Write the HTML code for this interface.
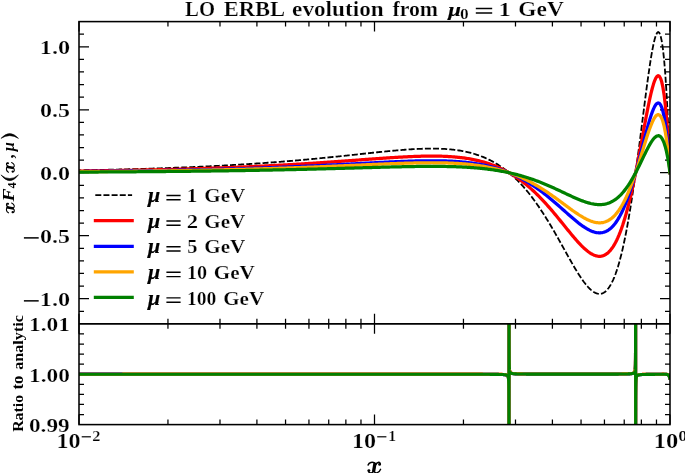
<!DOCTYPE html>
<html><head><meta charset="utf-8"><title>chart</title>
<style>html,body{margin:0;padding:0;background:#fff}body{width:685px;height:473px;overflow:hidden;position:relative;font-family:"Liberation Serif",serif}text{vector-effect:non-scaling-stroke;stroke:#fff;stroke-width:0.25px}</style></head>
<body>
<svg width="685" height="473" viewBox="0 0 685 473" style="position:absolute;left:0;top:0">
<defs><clipPath id="c1"><rect x="79.0" y="21.6" width="591.0" height="302.25"/></clipPath><clipPath id="c2"><rect x="79.0" y="323.85" width="591.0" height="100.75"/></clipPath></defs>
<rect width="685" height="473" fill="#fff"/>
<path d="M79.00,21.60 L79.00,31.60 M79.00,313.85 L79.00,333.85 M79.00,414.60 L79.00,424.60 M167.95,21.60 L167.95,26.60 M167.95,318.85 L167.95,328.85 M167.95,419.60 L167.95,424.60 M219.99,21.60 L219.99,26.60 M219.99,318.85 L219.99,328.85 M219.99,419.60 L219.99,424.60 M256.91,21.60 L256.91,26.60 M256.91,318.85 L256.91,328.85 M256.91,419.60 L256.91,424.60 M285.55,21.60 L285.55,26.60 M285.55,318.85 L285.55,328.85 M285.55,419.60 L285.55,424.60 M308.94,21.60 L308.94,26.60 M308.94,318.85 L308.94,328.85 M308.94,419.60 L308.94,424.60 M328.73,21.60 L328.73,26.60 M328.73,318.85 L328.73,328.85 M328.73,419.60 L328.73,424.60 M345.86,21.60 L345.86,26.60 M345.86,318.85 L345.86,328.85 M345.86,419.60 L345.86,424.60 M360.98,21.60 L360.98,26.60 M360.98,318.85 L360.98,328.85 M360.98,419.60 L360.98,424.60 M374.50,21.60 L374.50,31.60 M374.50,313.85 L374.50,333.85 M374.50,414.60 L374.50,424.60 M463.45,21.60 L463.45,26.60 M463.45,318.85 L463.45,328.85 M463.45,419.60 L463.45,424.60 M515.49,21.60 L515.49,26.60 M515.49,318.85 L515.49,328.85 M515.49,419.60 L515.49,424.60 M552.41,21.60 L552.41,26.60 M552.41,318.85 L552.41,328.85 M552.41,419.60 L552.41,424.60 M581.05,21.60 L581.05,26.60 M581.05,318.85 L581.05,328.85 M581.05,419.60 L581.05,424.60 M604.44,21.60 L604.44,26.60 M604.44,318.85 L604.44,328.85 M604.44,419.60 L604.44,424.60 M624.23,21.60 L624.23,26.60 M624.23,318.85 L624.23,328.85 M624.23,419.60 L624.23,424.60 M641.36,21.60 L641.36,26.60 M641.36,318.85 L641.36,328.85 M641.36,419.60 L641.36,424.60 M656.48,21.60 L656.48,26.60 M656.48,318.85 L656.48,328.85 M656.48,419.60 L656.48,424.60 M670.00,21.60 L670.00,31.60 M670.00,313.85 L670.00,333.85 M670.00,414.60 L670.00,424.60 M79.00,311.26 L84.00,311.26 M665.00,311.26 L670.00,311.26 M79.00,298.66 L89.00,298.66 M660.00,298.66 L670.00,298.66 M79.00,286.07 L84.00,286.07 M665.00,286.07 L670.00,286.07 M79.00,273.48 L84.00,273.48 M665.00,273.48 L670.00,273.48 M79.00,260.88 L84.00,260.88 M665.00,260.88 L670.00,260.88 M79.00,248.29 L84.00,248.29 M665.00,248.29 L670.00,248.29 M79.00,235.69 L89.00,235.69 M660.00,235.69 L670.00,235.69 M79.00,223.10 L84.00,223.10 M665.00,223.10 L670.00,223.10 M79.00,210.51 L84.00,210.51 M665.00,210.51 L670.00,210.51 M79.00,197.91 L84.00,197.91 M665.00,197.91 L670.00,197.91 M79.00,185.32 L84.00,185.32 M665.00,185.32 L670.00,185.32 M79.00,172.72 L89.00,172.72 M660.00,172.72 L670.00,172.72 M79.00,160.13 L84.00,160.13 M665.00,160.13 L670.00,160.13 M79.00,147.54 L84.00,147.54 M665.00,147.54 L670.00,147.54 M79.00,134.94 L84.00,134.94 M665.00,134.94 L670.00,134.94 M79.00,122.35 L84.00,122.35 M665.00,122.35 L670.00,122.35 M79.00,109.76 L89.00,109.76 M660.00,109.76 L670.00,109.76 M79.00,97.16 L84.00,97.16 M665.00,97.16 L670.00,97.16 M79.00,84.57 L84.00,84.57 M665.00,84.57 L670.00,84.57 M79.00,71.97 L84.00,71.97 M665.00,71.97 L670.00,71.97 M79.00,59.38 L84.00,59.38 M665.00,59.38 L670.00,59.38 M79.00,46.79 L89.00,46.79 M660.00,46.79 L670.00,46.79 M79.00,34.19 L84.00,34.19 M665.00,34.19 L670.00,34.19 M79.00,414.53 L84.00,414.53 M665.00,414.53 L670.00,414.53 M79.00,404.45 L84.00,404.45 M665.00,404.45 L670.00,404.45 M79.00,394.38 L84.00,394.38 M665.00,394.38 L670.00,394.38 M79.00,384.30 L84.00,384.30 M665.00,384.30 L670.00,384.30 M79.00,374.23 L89.00,374.23 M660.00,374.23 L670.00,374.23 M79.00,364.15 L84.00,364.15 M665.00,364.15 L670.00,364.15 M79.00,354.08 L84.00,354.08 M665.00,354.08 L670.00,354.08 M79.00,344.00 L84.00,344.00 M665.00,344.00 L670.00,344.00 M79.00,333.93 L84.00,333.93 M665.00,333.93 L670.00,333.93" stroke="#000" stroke-width="1.25" fill="none"/>
<g clip-path="url(#c1)" fill="none" stroke-linejoin="round">
<path d="M79.00,170.37 L80.18,170.35 L81.37,170.32 L82.55,170.30 L83.74,170.28 L84.92,170.26 L86.11,170.23 L87.29,170.21 L88.47,170.19 L89.66,170.16 L90.84,170.14 L92.03,170.12 L93.21,170.09 L94.40,170.07 L95.58,170.04 L96.77,170.02 L97.95,169.99 L99.13,169.97 L100.32,169.94 L101.50,169.92 L102.69,169.89 L103.87,169.87 L105.06,169.84 L106.24,169.81 L107.42,169.79 L108.61,169.76 L109.79,169.73 L110.98,169.70 L112.16,169.68 L113.35,169.65 L114.53,169.62 L115.72,169.59 L116.90,169.56 L118.08,169.53 L119.27,169.50 L120.45,169.47 L121.64,169.44 L122.82,169.41 L124.01,169.38 L125.19,169.35 L126.37,169.32 L127.56,169.29 L128.74,169.26 L129.93,169.23 L131.11,169.19 L132.30,169.16 L133.48,169.13 L134.67,169.09 L135.85,169.06 L137.03,169.03 L138.22,168.99 L139.40,168.96 L140.59,168.92 L141.77,168.89 L142.96,168.85 L144.14,168.82 L145.32,168.78 L146.51,168.75 L147.69,168.71 L148.88,168.67 L150.06,168.64 L151.25,168.60 L152.43,168.56 L153.62,168.52 L154.80,168.48 L155.98,168.44 L157.17,168.41 L158.35,168.37 L159.54,168.33 L160.72,168.29 L161.91,168.24 L163.09,168.20 L164.27,168.16 L165.46,168.12 L166.64,168.08 L167.83,168.04 L169.01,167.99 L170.20,167.95 L171.38,167.91 L172.57,167.86 L173.75,167.82 L174.93,167.77 L176.12,167.73 L177.30,167.68 L178.49,167.63 L179.67,167.59 L180.86,167.54 L182.04,167.49 L183.22,167.45 L184.41,167.40 L185.59,167.35 L186.78,167.30 L187.96,167.25 L189.15,167.20 L190.33,167.15 L191.52,167.10 L192.70,167.05 L193.88,167.00 L195.07,166.94 L196.25,166.89 L197.44,166.84 L198.62,166.79 L199.81,166.73 L200.99,166.68 L202.17,166.62 L203.36,166.57 L204.54,166.51 L205.73,166.45 L206.91,166.40 L208.10,166.34 L209.28,166.28 L210.46,166.22 L211.65,166.17 L212.83,166.11 L214.02,166.05 L215.20,165.99 L216.39,165.92 L217.57,165.86 L218.76,165.80 L219.94,165.74 L221.12,165.68 L222.31,165.61 L223.49,165.55 L224.68,165.48 L225.86,165.42 L227.05,165.35 L228.23,165.29 L229.41,165.22 L230.60,165.15 L231.78,165.08 L232.97,165.02 L234.15,164.95 L235.34,164.88 L236.52,164.81 L237.71,164.74 L238.89,164.67 L240.07,164.59 L241.26,164.52 L242.44,164.45 L243.63,164.37 L244.81,164.30 L246.00,164.22 L247.18,164.15 L248.36,164.07 L249.55,164.00 L250.73,163.92 L251.92,163.84 L253.10,163.76 L254.29,163.68 L255.47,163.60 L256.66,163.52 L257.84,163.44 L259.02,163.36 L260.21,163.28 L261.39,163.19 L262.58,163.11 L263.76,163.03 L264.95,162.94 L266.13,162.86 L267.31,162.77 L268.50,162.68 L269.68,162.60 L270.87,162.51 L272.05,162.42 L273.24,162.33 L274.42,162.24 L275.61,162.15 L276.79,162.06 L277.97,161.96 L279.16,161.87 L280.34,161.78 L281.53,161.68 L282.71,161.59 L283.90,161.49 L285.08,161.40 L286.26,161.30 L287.45,161.20 L288.63,161.10 L289.82,161.00 L291.00,160.91 L292.19,160.81 L293.37,160.70 L294.56,160.60 L295.74,160.50 L296.92,160.40 L298.11,160.29 L299.29,160.19 L300.48,160.08 L301.66,159.98 L302.85,159.87 L304.03,159.77 L305.21,159.66 L306.40,159.55 L307.58,159.44 L308.77,159.33 L309.95,159.22 L311.14,159.11 L312.32,159.00 L313.51,158.89 L314.69,158.78 L315.87,158.66 L317.06,158.55 L318.24,158.43 L319.43,158.32 L320.61,158.20 L321.80,158.09 L322.98,157.97 L324.16,157.85 L325.35,157.74 L326.53,157.62 L327.72,157.50 L328.90,157.38 L330.09,157.26 L331.27,157.14 L332.45,157.02 L333.64,156.90 L334.82,156.77 L336.01,156.65 L337.19,156.53 L338.38,156.41 L339.56,156.28 L340.75,156.16 L341.93,156.04 L343.11,155.91 L344.30,155.79 L345.48,155.66 L346.67,155.54 L347.85,155.41 L349.04,155.28 L350.22,155.16 L351.40,155.03 L352.59,154.91 L353.77,154.78 L354.96,154.65 L356.14,154.52 L357.33,154.40 L358.51,154.27 L359.70,154.14 L360.88,154.02 L362.06,153.89 L363.25,153.76 L364.43,153.64 L365.62,153.51 L366.80,153.38 L367.99,153.26 L369.17,153.13 L370.35,153.01 L371.54,152.88 L372.72,152.76 L373.91,152.63 L375.09,152.51 L376.28,152.39 L377.46,152.26 L378.65,152.14 L379.83,152.02 L381.01,151.90 L382.20,151.78 L383.38,151.66 L384.57,151.55 L385.75,151.43 L386.94,151.31 L388.12,151.20 L389.30,151.08 L390.49,150.97 L391.67,150.86 L392.86,150.75 L394.04,150.65 L395.23,150.54 L396.41,150.43 L397.60,150.33 L398.78,150.23 L399.96,150.13 L401.15,150.03 L402.33,149.94 L403.52,149.85 L404.70,149.76 L405.89,149.67 L407.07,149.58 L408.25,149.50 L409.44,149.42 L410.62,149.34 L411.81,149.27 L412.99,149.20 L414.18,149.13 L415.36,149.06 L416.55,149.00 L417.73,148.94 L418.91,148.89 L420.10,148.84 L421.28,148.79 L422.47,148.75 L423.65,148.71 L424.84,148.68 L426.02,148.65 L427.20,148.63 L428.39,148.61 L429.57,148.59 L430.76,148.59 L431.94,148.58 L433.13,148.58 L434.31,148.59 L435.49,148.61 L436.68,148.63 L437.86,148.65 L439.05,148.69 L440.23,148.73 L441.42,148.78 L442.60,148.83 L443.79,148.89 L444.97,148.96 L446.15,149.04 L447.34,149.13 L448.52,149.22 L449.71,149.33 L450.89,149.44 L452.08,149.56 L453.26,149.69 L454.44,149.83 L455.63,149.98 L456.81,150.14 L458.00,150.32 L459.18,150.50 L460.37,150.69 L461.55,150.90 L462.74,151.12 L463.92,151.34 L465.10,151.59 L466.29,151.84 L467.47,152.11 L468.66,152.39 L469.84,152.69 L471.03,152.99 L472.21,153.32 L473.39,153.66 L474.58,154.01 L475.76,154.38 L476.95,154.77 L478.13,155.17 L479.32,155.59 L480.50,156.02 L481.69,156.47 L482.87,156.94 L484.05,157.43 L485.24,157.94 L486.42,158.47 L487.61,159.01 L488.79,159.58 L489.98,160.17 L491.16,160.77 L492.34,161.40 L493.53,162.05 L494.71,162.73 L495.90,163.42 L497.08,164.14 L498.27,164.88 L499.45,165.64 L500.64,166.43 L501.82,167.24 L503.00,168.08 L504.19,168.94 L505.37,169.83 L506.56,170.75 L507.74,171.69 L508.93,172.65 L510.11,173.65 L511.29,174.67 L512.48,175.72 L513.66,176.80 L514.85,177.91 L516.03,179.04 L517.22,180.21 L518.40,181.40 L519.59,182.63 L520.77,183.88 L521.95,185.17 L523.14,186.48 L524.32,187.83 L525.51,189.20 L526.69,190.61 L527.88,192.05 L529.06,193.52 L530.24,195.02 L531.43,196.55 L532.61,198.11 L533.80,199.70 L534.98,201.32 L536.17,202.97 L537.35,204.66 L538.54,206.37 L539.72,208.11 L540.90,209.88 L542.09,211.68 L543.27,213.51 L544.46,215.36 L545.64,217.24 L546.83,219.15 L548.01,221.08 L549.19,223.04 L550.38,225.01 L551.56,227.01 L552.75,229.03 L553.93,231.07 L555.12,233.13 L556.30,235.20 L557.48,237.29 L558.67,239.39 L559.85,241.50 L561.04,243.61 L562.22,245.74 L563.41,247.87 L564.59,249.99 L565.78,252.12 L566.96,254.24 L568.14,256.36 L569.33,258.46 L570.51,260.55 L571.70,262.63 L572.88,264.68 L574.07,266.70 L575.25,268.70 L576.43,270.66 L577.62,272.58 L578.80,274.46 L579.99,276.29 L581.17,278.07 L582.36,279.78 L583.54,281.43 L584.73,283.01 L585.91,284.52 L587.09,285.93 L588.28,287.26 L589.46,288.49 L590.65,289.61 L591.83,290.63 L593.02,291.52 L594.20,292.28 L595.38,292.91 L596.57,293.39 L597.75,293.72 L598.94,293.89 L600.12,293.88 L601.31,293.70 L602.49,293.33 L603.68,292.75 L604.86,291.97 L606.04,290.97 L607.23,289.75 L608.41,288.28 L609.60,286.57 L610.78,284.60 L611.97,282.37 L613.15,279.86 L614.33,277.07 L615.52,273.99 L616.70,270.60 L617.89,266.91 L619.07,262.91 L620.26,258.58 L621.44,253.93 L622.63,248.94 L623.81,243.62 L624.99,237.97 L626.18,231.98 L627.36,225.66 L628.55,219.00 L629.73,212.02 L630.92,204.72 L632.10,197.11 L633.28,189.20 L634.47,181.01 L635.65,172.57 L636.84,163.88 L638.02,154.99 L639.21,145.92 L640.39,136.72 L641.58,127.42 L642.76,118.08 L643.94,108.76 L645.13,99.52 L646.31,90.43 L647.50,81.58 L648.68,73.06 L649.87,64.97 L651.05,57.43 L652.23,50.57 L653.42,44.53 L654.60,39.47 L655.79,35.57 L656.97,33.01 L658.16,32.02 L659.34,32.82 L660.53,35.67 L661.71,40.86 L662.89,48.70 L664.08,59.52 L665.26,73.71 L666.45,91.65 L667.63,113.81 L668.82,140.66 L670.00,172.72" stroke="#000" stroke-width="1.8" stroke-dasharray="6.0 2.15" stroke-dashoffset="3.73"/>
<path d="M79.00,171.10 L80.18,171.08 L81.37,171.07 L82.55,171.05 L83.74,171.04 L84.92,171.02 L86.11,171.01 L87.29,170.99 L88.47,170.98 L89.66,170.96 L90.84,170.94 L92.03,170.93 L93.21,170.91 L94.40,170.89 L95.58,170.88 L96.77,170.86 L97.95,170.84 L99.13,170.82 L100.32,170.81 L101.50,170.79 L102.69,170.77 L103.87,170.75 L105.06,170.73 L106.24,170.72 L107.42,170.70 L108.61,170.68 L109.79,170.66 L110.98,170.64 L112.16,170.62 L113.35,170.60 L114.53,170.58 L115.72,170.56 L116.90,170.54 L118.08,170.52 L119.27,170.50 L120.45,170.48 L121.64,170.46 L122.82,170.44 L124.01,170.42 L125.19,170.40 L126.37,170.38 L127.56,170.36 L128.74,170.33 L129.93,170.31 L131.11,170.29 L132.30,170.27 L133.48,170.24 L134.67,170.22 L135.85,170.20 L137.03,170.18 L138.22,170.15 L139.40,170.13 L140.59,170.10 L141.77,170.08 L142.96,170.06 L144.14,170.03 L145.32,170.01 L146.51,169.98 L147.69,169.96 L148.88,169.93 L150.06,169.91 L151.25,169.88 L152.43,169.85 L153.62,169.83 L154.80,169.80 L155.98,169.77 L157.17,169.75 L158.35,169.72 L159.54,169.69 L160.72,169.66 L161.91,169.64 L163.09,169.61 L164.27,169.58 L165.46,169.55 L166.64,169.52 L167.83,169.49 L169.01,169.46 L170.20,169.43 L171.38,169.40 L172.57,169.37 L173.75,169.34 L174.93,169.31 L176.12,169.28 L177.30,169.25 L178.49,169.22 L179.67,169.18 L180.86,169.15 L182.04,169.12 L183.22,169.09 L184.41,169.05 L185.59,169.02 L186.78,168.98 L187.96,168.95 L189.15,168.92 L190.33,168.88 L191.52,168.85 L192.70,168.81 L193.88,168.78 L195.07,168.74 L196.25,168.70 L197.44,168.67 L198.62,168.63 L199.81,168.59 L200.99,168.55 L202.17,168.52 L203.36,168.48 L204.54,168.44 L205.73,168.40 L206.91,168.36 L208.10,168.32 L209.28,168.28 L210.46,168.24 L211.65,168.20 L212.83,168.16 L214.02,168.12 L215.20,168.08 L216.39,168.04 L217.57,167.99 L218.76,167.95 L219.94,167.91 L221.12,167.86 L222.31,167.82 L223.49,167.78 L224.68,167.73 L225.86,167.69 L227.05,167.64 L228.23,167.60 L229.41,167.55 L230.60,167.50 L231.78,167.46 L232.97,167.41 L234.15,167.36 L235.34,167.31 L236.52,167.27 L237.71,167.22 L238.89,167.17 L240.07,167.12 L241.26,167.07 L242.44,167.02 L243.63,166.97 L244.81,166.92 L246.00,166.86 L247.18,166.81 L248.36,166.76 L249.55,166.71 L250.73,166.65 L251.92,166.60 L253.10,166.55 L254.29,166.49 L255.47,166.44 L256.66,166.38 L257.84,166.32 L259.02,166.27 L260.21,166.21 L261.39,166.15 L262.58,166.10 L263.76,166.04 L264.95,165.98 L266.13,165.92 L267.31,165.86 L268.50,165.80 L269.68,165.74 L270.87,165.68 L272.05,165.62 L273.24,165.56 L274.42,165.49 L275.61,165.43 L276.79,165.37 L277.97,165.31 L279.16,165.24 L280.34,165.18 L281.53,165.11 L282.71,165.05 L283.90,164.98 L285.08,164.91 L286.26,164.85 L287.45,164.78 L288.63,164.71 L289.82,164.64 L291.00,164.58 L292.19,164.51 L293.37,164.44 L294.56,164.37 L295.74,164.30 L296.92,164.23 L298.11,164.15 L299.29,164.08 L300.48,164.01 L301.66,163.94 L302.85,163.86 L304.03,163.79 L305.21,163.72 L306.40,163.64 L307.58,163.57 L308.77,163.49 L309.95,163.41 L311.14,163.34 L312.32,163.26 L313.51,163.18 L314.69,163.11 L315.87,163.03 L317.06,162.95 L318.24,162.87 L319.43,162.79 L320.61,162.71 L321.80,162.63 L322.98,162.55 L324.16,162.47 L325.35,162.39 L326.53,162.31 L327.72,162.23 L328.90,162.14 L330.09,162.06 L331.27,161.98 L332.45,161.90 L333.64,161.81 L334.82,161.73 L336.01,161.64 L337.19,161.56 L338.38,161.47 L339.56,161.39 L340.75,161.30 L341.93,161.22 L343.11,161.13 L344.30,161.05 L345.48,160.96 L346.67,160.87 L347.85,160.79 L349.04,160.70 L350.22,160.61 L351.40,160.53 L352.59,160.44 L353.77,160.35 L354.96,160.26 L356.14,160.18 L357.33,160.09 L358.51,160.00 L359.70,159.91 L360.88,159.83 L362.06,159.74 L363.25,159.65 L364.43,159.56 L365.62,159.48 L366.80,159.39 L367.99,159.30 L369.17,159.22 L370.35,159.13 L371.54,159.04 L372.72,158.96 L373.91,158.87 L375.09,158.79 L376.28,158.70 L377.46,158.62 L378.65,158.53 L379.83,158.45 L381.01,158.37 L382.20,158.28 L383.38,158.20 L384.57,158.12 L385.75,158.04 L386.94,157.96 L388.12,157.88 L389.30,157.80 L390.49,157.73 L391.67,157.65 L392.86,157.58 L394.04,157.50 L395.23,157.43 L396.41,157.36 L397.60,157.28 L398.78,157.22 L399.96,157.15 L401.15,157.08 L402.33,157.01 L403.52,156.95 L404.70,156.89 L405.89,156.83 L407.07,156.77 L408.25,156.71 L409.44,156.66 L410.62,156.60 L411.81,156.55 L412.99,156.50 L414.18,156.46 L415.36,156.41 L416.55,156.37 L417.73,156.33 L418.91,156.29 L420.10,156.26 L421.28,156.22 L422.47,156.20 L423.65,156.17 L424.84,156.15 L426.02,156.13 L427.20,156.11 L428.39,156.10 L429.57,156.09 L430.76,156.08 L431.94,156.08 L433.13,156.08 L434.31,156.09 L435.49,156.10 L436.68,156.11 L437.86,156.13 L439.05,156.15 L440.23,156.18 L441.42,156.21 L442.60,156.25 L443.79,156.29 L444.97,156.34 L446.15,156.40 L447.34,156.45 L448.52,156.52 L449.71,156.59 L450.89,156.67 L452.08,156.75 L453.26,156.84 L454.44,156.94 L455.63,157.04 L456.81,157.16 L458.00,157.27 L459.18,157.40 L460.37,157.53 L461.55,157.68 L462.74,157.83 L463.92,157.98 L465.10,158.15 L466.29,158.33 L467.47,158.51 L468.66,158.70 L469.84,158.91 L471.03,159.12 L472.21,159.34 L473.39,159.58 L474.58,159.82 L475.76,160.08 L476.95,160.34 L478.13,160.62 L479.32,160.91 L480.50,161.21 L481.69,161.52 L482.87,161.84 L484.05,162.18 L485.24,162.53 L486.42,162.90 L487.61,163.27 L488.79,163.66 L489.98,164.07 L491.16,164.49 L492.34,164.92 L493.53,165.37 L494.71,165.83 L495.90,166.31 L497.08,166.80 L498.27,167.31 L499.45,167.84 L500.64,168.38 L501.82,168.94 L503.00,169.52 L504.19,170.12 L505.37,170.73 L506.56,171.36 L507.74,172.01 L508.93,172.68 L510.11,173.36 L511.29,174.07 L512.48,174.79 L513.66,175.54 L514.85,176.30 L516.03,177.08 L517.22,177.89 L518.40,178.71 L519.59,179.55 L520.77,180.42 L521.95,181.30 L523.14,182.21 L524.32,183.14 L525.51,184.09 L526.69,185.06 L527.88,186.05 L529.06,187.06 L530.24,188.10 L531.43,189.15 L532.61,190.23 L533.80,191.32 L534.98,192.44 L536.17,193.58 L537.35,194.74 L538.54,195.92 L539.72,197.12 L540.90,198.35 L542.09,199.59 L543.27,200.85 L544.46,202.12 L545.64,203.42 L546.83,204.73 L548.01,206.07 L549.19,207.41 L550.38,208.78 L551.56,210.16 L552.75,211.55 L553.93,212.96 L555.12,214.37 L556.30,215.80 L557.48,217.24 L558.67,218.69 L559.85,220.14 L561.04,221.60 L562.22,223.07 L563.41,224.53 L564.59,226.00 L565.78,227.47 L566.96,228.93 L568.14,230.39 L569.33,231.84 L570.51,233.28 L571.70,234.71 L572.88,236.13 L574.07,237.52 L575.25,238.90 L576.43,240.25 L577.62,241.58 L578.80,242.87 L579.99,244.13 L581.17,245.36 L582.36,246.54 L583.54,247.68 L584.73,248.77 L585.91,249.80 L587.09,250.78 L588.28,251.70 L589.46,252.55 L590.65,253.32 L591.83,254.02 L593.02,254.63 L594.20,255.16 L595.38,255.59 L596.57,255.93 L597.75,256.15 L598.94,256.27 L600.12,256.26 L601.31,256.14 L602.49,255.88 L603.68,255.48 L604.86,254.95 L606.04,254.26 L607.23,253.41 L608.41,252.40 L609.60,251.22 L610.78,249.86 L611.97,248.32 L613.15,246.60 L614.33,244.67 L615.52,242.54 L616.70,240.21 L617.89,237.67 L619.07,234.90 L620.26,231.92 L621.44,228.71 L622.63,225.28 L623.81,221.61 L624.99,217.71 L626.18,213.58 L627.36,209.22 L628.55,204.63 L629.73,199.82 L630.92,194.78 L632.10,189.54 L633.28,184.08 L634.47,178.44 L635.65,172.61 L636.84,166.63 L638.02,160.50 L639.21,154.25 L640.39,147.90 L641.58,141.49 L642.76,135.05 L643.94,128.62 L645.13,122.25 L646.31,115.98 L647.50,109.88 L648.68,104.00 L649.87,98.43 L651.05,93.23 L652.23,88.50 L653.42,84.34 L654.60,80.85 L655.79,78.15 L656.97,76.39 L658.16,75.71 L659.34,76.26 L660.53,78.23 L661.71,81.81 L662.89,87.21 L664.08,94.67 L665.26,104.45 L666.45,116.83 L667.63,132.10 L668.82,150.61 L670.00,172.72" stroke="#ff0000" stroke-width="3.25" stroke-linecap="square"/>
<path d="M79.00,171.56 L80.18,171.54 L81.37,171.53 L82.55,171.52 L83.74,171.51 L84.92,171.50 L86.11,171.49 L87.29,171.48 L88.47,171.47 L89.66,171.45 L90.84,171.44 L92.03,171.43 L93.21,171.42 L94.40,171.41 L95.58,171.39 L96.77,171.38 L97.95,171.37 L99.13,171.36 L100.32,171.35 L101.50,171.33 L102.69,171.32 L103.87,171.31 L105.06,171.29 L106.24,171.28 L107.42,171.27 L108.61,171.25 L109.79,171.24 L110.98,171.23 L112.16,171.21 L113.35,171.20 L114.53,171.18 L115.72,171.17 L116.90,171.16 L118.08,171.14 L119.27,171.13 L120.45,171.11 L121.64,171.10 L122.82,171.08 L124.01,171.07 L125.19,171.05 L126.37,171.04 L127.56,171.02 L128.74,171.00 L129.93,170.99 L131.11,170.97 L132.30,170.96 L133.48,170.94 L134.67,170.92 L135.85,170.91 L137.03,170.89 L138.22,170.87 L139.40,170.86 L140.59,170.84 L141.77,170.82 L142.96,170.80 L144.14,170.79 L145.32,170.77 L146.51,170.75 L147.69,170.73 L148.88,170.72 L150.06,170.70 L151.25,170.68 L152.43,170.66 L153.62,170.64 L154.80,170.62 L155.98,170.60 L157.17,170.58 L158.35,170.56 L159.54,170.54 L160.72,170.52 L161.91,170.50 L163.09,170.48 L164.27,170.46 L165.46,170.44 L166.64,170.42 L167.83,170.40 L169.01,170.38 L170.20,170.36 L171.38,170.33 L172.57,170.31 L173.75,170.29 L174.93,170.27 L176.12,170.25 L177.30,170.22 L178.49,170.20 L179.67,170.18 L180.86,170.15 L182.04,170.13 L183.22,170.11 L184.41,170.08 L185.59,170.06 L186.78,170.03 L187.96,170.01 L189.15,169.99 L190.33,169.96 L191.52,169.93 L192.70,169.91 L193.88,169.88 L195.07,169.86 L196.25,169.83 L197.44,169.81 L198.62,169.78 L199.81,169.75 L200.99,169.73 L202.17,169.70 L203.36,169.67 L204.54,169.64 L205.73,169.61 L206.91,169.59 L208.10,169.56 L209.28,169.53 L210.46,169.50 L211.65,169.47 L212.83,169.44 L214.02,169.41 L215.20,169.38 L216.39,169.35 L217.57,169.32 L218.76,169.29 L219.94,169.26 L221.12,169.23 L222.31,169.20 L223.49,169.17 L224.68,169.13 L225.86,169.10 L227.05,169.07 L228.23,169.04 L229.41,169.00 L230.60,168.97 L231.78,168.94 L232.97,168.90 L234.15,168.87 L235.34,168.83 L236.52,168.80 L237.71,168.76 L238.89,168.73 L240.07,168.69 L241.26,168.66 L242.44,168.62 L243.63,168.58 L244.81,168.55 L246.00,168.51 L247.18,168.47 L248.36,168.43 L249.55,168.40 L250.73,168.36 L251.92,168.32 L253.10,168.28 L254.29,168.24 L255.47,168.20 L256.66,168.16 L257.84,168.12 L259.02,168.08 L260.21,168.04 L261.39,168.00 L262.58,167.96 L263.76,167.91 L264.95,167.87 L266.13,167.83 L267.31,167.79 L268.50,167.74 L269.68,167.70 L270.87,167.66 L272.05,167.61 L273.24,167.57 L274.42,167.52 L275.61,167.48 L276.79,167.43 L277.97,167.39 L279.16,167.34 L280.34,167.29 L281.53,167.25 L282.71,167.20 L283.90,167.15 L285.08,167.11 L286.26,167.06 L287.45,167.01 L288.63,166.96 L289.82,166.91 L291.00,166.86 L292.19,166.81 L293.37,166.76 L294.56,166.71 L295.74,166.66 L296.92,166.61 L298.11,166.56 L299.29,166.51 L300.48,166.46 L301.66,166.40 L302.85,166.35 L304.03,166.30 L305.21,166.24 L306.40,166.19 L307.58,166.14 L308.77,166.08 L309.95,166.03 L311.14,165.97 L312.32,165.92 L313.51,165.86 L314.69,165.81 L315.87,165.75 L317.06,165.69 L318.24,165.64 L319.43,165.58 L320.61,165.52 L321.80,165.46 L322.98,165.41 L324.16,165.35 L325.35,165.29 L326.53,165.23 L327.72,165.17 L328.90,165.11 L330.09,165.05 L331.27,164.99 L332.45,164.93 L333.64,164.87 L334.82,164.81 L336.01,164.75 L337.19,164.69 L338.38,164.63 L339.56,164.57 L340.75,164.51 L341.93,164.45 L343.11,164.39 L344.30,164.32 L345.48,164.26 L346.67,164.20 L347.85,164.14 L349.04,164.07 L350.22,164.01 L351.40,163.95 L352.59,163.89 L353.77,163.82 L354.96,163.76 L356.14,163.70 L357.33,163.63 L358.51,163.57 L359.70,163.51 L360.88,163.45 L362.06,163.38 L363.25,163.32 L364.43,163.26 L365.62,163.19 L366.80,163.13 L367.99,163.07 L369.17,163.01 L370.35,162.94 L371.54,162.88 L372.72,162.82 L373.91,162.76 L375.09,162.70 L376.28,162.64 L377.46,162.58 L378.65,162.52 L379.83,162.46 L381.01,162.40 L382.20,162.34 L383.38,162.28 L384.57,162.22 L385.75,162.16 L386.94,162.10 L388.12,162.05 L389.30,161.99 L390.49,161.94 L391.67,161.88 L392.86,161.83 L394.04,161.77 L395.23,161.72 L396.41,161.67 L397.60,161.62 L398.78,161.57 L399.96,161.52 L401.15,161.47 L402.33,161.42 L403.52,161.38 L404.70,161.33 L405.89,161.29 L407.07,161.25 L408.25,161.21 L409.44,161.17 L410.62,161.13 L411.81,161.09 L412.99,161.05 L414.18,161.02 L415.36,160.99 L416.55,160.96 L417.73,160.93 L418.91,160.90 L420.10,160.88 L421.28,160.85 L422.47,160.83 L423.65,160.82 L424.84,160.80 L426.02,160.78 L427.20,160.77 L428.39,160.76 L429.57,160.76 L430.76,160.75 L431.94,160.75 L433.13,160.75 L434.31,160.76 L435.49,160.76 L436.68,160.77 L437.86,160.79 L439.05,160.80 L440.23,160.82 L441.42,160.85 L442.60,160.87 L443.79,160.90 L444.97,160.94 L446.15,160.98 L447.34,161.02 L448.52,161.07 L449.71,161.12 L450.89,161.17 L452.08,161.24 L453.26,161.30 L454.44,161.37 L455.63,161.44 L456.81,161.52 L458.00,161.61 L459.18,161.70 L460.37,161.80 L461.55,161.90 L462.74,162.01 L463.92,162.12 L465.10,162.24 L466.29,162.37 L467.47,162.50 L468.66,162.64 L469.84,162.79 L471.03,162.94 L472.21,163.10 L473.39,163.27 L474.58,163.44 L475.76,163.63 L476.95,163.82 L478.13,164.02 L479.32,164.22 L480.50,164.44 L481.69,164.66 L482.87,164.90 L484.05,165.14 L485.24,165.39 L486.42,165.65 L487.61,165.92 L488.79,166.21 L489.98,166.50 L491.16,166.80 L492.34,167.11 L493.53,167.43 L494.71,167.77 L495.90,168.11 L497.08,168.47 L498.27,168.83 L499.45,169.21 L500.64,169.60 L501.82,170.01 L503.00,170.42 L504.19,170.85 L505.37,171.29 L506.56,171.74 L507.74,172.21 L508.93,172.69 L510.11,173.18 L511.29,173.69 L512.48,174.21 L513.66,174.75 L514.85,175.30 L516.03,175.86 L517.22,176.44 L518.40,177.03 L519.59,177.64 L520.77,178.26 L521.95,178.90 L523.14,179.55 L524.32,180.22 L525.51,180.90 L526.69,181.60 L527.88,182.31 L529.06,183.04 L530.24,183.78 L531.43,184.54 L532.61,185.32 L533.80,186.10 L534.98,186.91 L536.17,187.73 L537.35,188.56 L538.54,189.41 L539.72,190.28 L540.90,191.16 L542.09,192.05 L543.27,192.95 L544.46,193.87 L545.64,194.81 L546.83,195.75 L548.01,196.71 L549.19,197.68 L550.38,198.66 L551.56,199.65 L552.75,200.65 L553.93,201.67 L555.12,202.69 L556.30,203.71 L557.48,204.75 L558.67,205.79 L559.85,206.84 L561.04,207.89 L562.22,208.94 L563.41,209.99 L564.59,211.05 L565.78,212.11 L566.96,213.16 L568.14,214.21 L569.33,215.25 L570.51,216.29 L571.70,217.32 L572.88,218.33 L574.07,219.34 L575.25,220.33 L576.43,221.30 L577.62,222.25 L578.80,223.19 L579.99,224.09 L581.17,224.97 L582.36,225.83 L583.54,226.64 L584.73,227.43 L585.91,228.17 L587.09,228.88 L588.28,229.53 L589.46,230.14 L590.65,230.70 L591.83,231.20 L593.02,231.65 L594.20,232.03 L595.38,232.34 L596.57,232.58 L597.75,232.74 L598.94,232.82 L600.12,232.82 L601.31,232.73 L602.49,232.54 L603.68,232.26 L604.86,231.87 L606.04,231.38 L607.23,230.77 L608.41,230.04 L609.60,229.19 L610.78,228.22 L611.97,227.11 L613.15,225.86 L614.33,224.48 L615.52,222.95 L616.70,221.27 L617.89,219.44 L619.07,217.45 L620.26,215.31 L621.44,213.00 L622.63,210.53 L623.81,207.89 L624.99,205.09 L626.18,202.12 L627.36,198.98 L628.55,195.68 L629.73,192.22 L630.92,188.59 L632.10,184.82 L633.28,180.90 L634.47,176.84 L635.65,172.65 L636.84,168.34 L638.02,163.93 L639.21,159.43 L640.39,154.87 L641.58,150.26 L642.76,145.62 L643.94,141.00 L645.13,136.41 L646.31,131.91 L647.50,127.52 L648.68,123.29 L649.87,119.28 L651.05,115.54 L652.23,112.14 L653.42,109.14 L654.60,106.63 L655.79,104.69 L656.97,103.43 L658.16,102.93 L659.34,103.33 L660.53,104.75 L661.71,107.32 L662.89,111.21 L664.08,116.58 L665.26,123.61 L666.45,132.51 L667.63,143.50 L668.82,156.82 L670.00,172.72" stroke="#0000ff" stroke-width="3.25" stroke-linecap="square"/>
<path d="M79.00,171.75 L80.18,171.74 L81.37,171.73 L82.55,171.72 L83.74,171.71 L84.92,171.71 L86.11,171.70 L87.29,171.69 L88.47,171.68 L89.66,171.67 L90.84,171.66 L92.03,171.65 L93.21,171.64 L94.40,171.63 L95.58,171.62 L96.77,171.61 L97.95,171.60 L99.13,171.59 L100.32,171.58 L101.50,171.57 L102.69,171.55 L103.87,171.54 L105.06,171.53 L106.24,171.52 L107.42,171.51 L108.61,171.50 L109.79,171.49 L110.98,171.48 L112.16,171.47 L113.35,171.45 L114.53,171.44 L115.72,171.43 L116.90,171.42 L118.08,171.41 L119.27,171.39 L120.45,171.38 L121.64,171.37 L122.82,171.36 L124.01,171.34 L125.19,171.33 L126.37,171.32 L127.56,171.31 L128.74,171.29 L129.93,171.28 L131.11,171.27 L132.30,171.25 L133.48,171.24 L134.67,171.23 L135.85,171.21 L137.03,171.20 L138.22,171.18 L139.40,171.17 L140.59,171.16 L141.77,171.14 L142.96,171.13 L144.14,171.11 L145.32,171.10 L146.51,171.08 L147.69,171.07 L148.88,171.05 L150.06,171.04 L151.25,171.02 L152.43,171.00 L153.62,170.99 L154.80,170.97 L155.98,170.96 L157.17,170.94 L158.35,170.92 L159.54,170.91 L160.72,170.89 L161.91,170.87 L163.09,170.86 L164.27,170.84 L165.46,170.82 L166.64,170.81 L167.83,170.79 L169.01,170.77 L170.20,170.75 L171.38,170.73 L172.57,170.72 L173.75,170.70 L174.93,170.68 L176.12,170.66 L177.30,170.64 L178.49,170.62 L179.67,170.60 L180.86,170.58 L182.04,170.56 L183.22,170.54 L184.41,170.52 L185.59,170.50 L186.78,170.48 L187.96,170.46 L189.15,170.44 L190.33,170.42 L191.52,170.40 L192.70,170.38 L193.88,170.36 L195.07,170.34 L196.25,170.32 L197.44,170.29 L198.62,170.27 L199.81,170.25 L200.99,170.23 L202.17,170.20 L203.36,170.18 L204.54,170.16 L205.73,170.14 L206.91,170.11 L208.10,170.09 L209.28,170.06 L210.46,170.04 L211.65,170.02 L212.83,169.99 L214.02,169.97 L215.20,169.94 L216.39,169.92 L217.57,169.89 L218.76,169.87 L219.94,169.84 L221.12,169.81 L222.31,169.79 L223.49,169.76 L224.68,169.73 L225.86,169.71 L227.05,169.68 L228.23,169.65 L229.41,169.63 L230.60,169.60 L231.78,169.57 L232.97,169.54 L234.15,169.51 L235.34,169.48 L236.52,169.46 L237.71,169.43 L238.89,169.40 L240.07,169.37 L241.26,169.34 L242.44,169.31 L243.63,169.28 L244.81,169.25 L246.00,169.21 L247.18,169.18 L248.36,169.15 L249.55,169.12 L250.73,169.09 L251.92,169.06 L253.10,169.02 L254.29,168.99 L255.47,168.96 L256.66,168.92 L257.84,168.89 L259.02,168.86 L260.21,168.82 L261.39,168.79 L262.58,168.75 L263.76,168.72 L264.95,168.68 L266.13,168.65 L267.31,168.61 L268.50,168.58 L269.68,168.54 L270.87,168.50 L272.05,168.47 L273.24,168.43 L274.42,168.39 L275.61,168.36 L276.79,168.32 L277.97,168.28 L279.16,168.24 L280.34,168.20 L281.53,168.16 L282.71,168.13 L283.90,168.09 L285.08,168.05 L286.26,168.01 L287.45,167.97 L288.63,167.93 L289.82,167.88 L291.00,167.84 L292.19,167.80 L293.37,167.76 L294.56,167.72 L295.74,167.68 L296.92,167.63 L298.11,167.59 L299.29,167.55 L300.48,167.50 L301.66,167.46 L302.85,167.42 L304.03,167.37 L305.21,167.33 L306.40,167.28 L307.58,167.24 L308.77,167.19 L309.95,167.15 L311.14,167.10 L312.32,167.06 L313.51,167.01 L314.69,166.96 L315.87,166.92 L317.06,166.87 L318.24,166.82 L319.43,166.78 L320.61,166.73 L321.80,166.68 L322.98,166.63 L324.16,166.58 L325.35,166.53 L326.53,166.49 L327.72,166.44 L328.90,166.39 L330.09,166.34 L331.27,166.29 L332.45,166.24 L333.64,166.19 L334.82,166.14 L336.01,166.09 L337.19,166.04 L338.38,165.99 L339.56,165.93 L340.75,165.88 L341.93,165.83 L343.11,165.78 L344.30,165.73 L345.48,165.68 L346.67,165.63 L347.85,165.57 L349.04,165.52 L350.22,165.47 L351.40,165.42 L352.59,165.37 L353.77,165.31 L354.96,165.26 L356.14,165.21 L357.33,165.16 L358.51,165.10 L359.70,165.05 L360.88,165.00 L362.06,164.95 L363.25,164.89 L364.43,164.84 L365.62,164.79 L366.80,164.74 L367.99,164.69 L369.17,164.63 L370.35,164.58 L371.54,164.53 L372.72,164.48 L373.91,164.43 L375.09,164.38 L376.28,164.33 L377.46,164.27 L378.65,164.22 L379.83,164.17 L381.01,164.12 L382.20,164.08 L383.38,164.03 L384.57,163.98 L385.75,163.93 L386.94,163.88 L388.12,163.83 L389.30,163.79 L390.49,163.74 L391.67,163.70 L392.86,163.65 L394.04,163.61 L395.23,163.56 L396.41,163.52 L397.60,163.48 L398.78,163.43 L399.96,163.39 L401.15,163.35 L402.33,163.31 L403.52,163.28 L404.70,163.24 L405.89,163.20 L407.07,163.17 L408.25,163.13 L409.44,163.10 L410.62,163.07 L411.81,163.04 L412.99,163.01 L414.18,162.98 L415.36,162.95 L416.55,162.93 L417.73,162.90 L418.91,162.88 L420.10,162.86 L421.28,162.84 L422.47,162.82 L423.65,162.81 L424.84,162.79 L426.02,162.78 L427.20,162.77 L428.39,162.76 L429.57,162.76 L430.76,162.76 L431.94,162.75 L433.13,162.76 L434.31,162.76 L435.49,162.76 L436.68,162.77 L437.86,162.78 L439.05,162.80 L440.23,162.81 L441.42,162.83 L442.60,162.86 L443.79,162.88 L444.97,162.91 L446.15,162.94 L447.34,162.98 L448.52,163.02 L449.71,163.06 L450.89,163.11 L452.08,163.16 L453.26,163.21 L454.44,163.27 L455.63,163.33 L456.81,163.40 L458.00,163.47 L459.18,163.55 L460.37,163.63 L461.55,163.71 L462.74,163.80 L463.92,163.89 L465.10,163.99 L466.29,164.10 L467.47,164.21 L468.66,164.33 L469.84,164.45 L471.03,164.58 L472.21,164.71 L473.39,164.85 L474.58,165.00 L475.76,165.15 L476.95,165.31 L478.13,165.47 L479.32,165.65 L480.50,165.83 L481.69,166.01 L482.87,166.21 L484.05,166.41 L485.24,166.62 L486.42,166.84 L487.61,167.06 L488.79,167.30 L489.98,167.54 L491.16,167.79 L492.34,168.05 L493.53,168.32 L494.71,168.60 L495.90,168.88 L497.08,169.18 L498.27,169.48 L499.45,169.80 L500.64,170.13 L501.82,170.46 L503.00,170.81 L504.19,171.16 L505.37,171.53 L506.56,171.91 L507.74,172.30 L508.93,172.70 L510.11,173.11 L511.29,173.53 L512.48,173.96 L513.66,174.41 L514.85,174.87 L516.03,175.33 L517.22,175.82 L518.40,176.31 L519.59,176.82 L520.77,177.33 L521.95,177.86 L523.14,178.41 L524.32,178.96 L525.51,179.53 L526.69,180.11 L527.88,180.71 L529.06,181.31 L530.24,181.93 L531.43,182.56 L532.61,183.21 L533.80,183.87 L534.98,184.54 L536.17,185.22 L537.35,185.91 L538.54,186.62 L539.72,187.34 L540.90,188.07 L542.09,188.81 L543.27,189.57 L544.46,190.33 L545.64,191.11 L546.83,191.90 L548.01,192.70 L549.19,193.50 L550.38,194.32 L551.56,195.15 L552.75,195.98 L553.93,196.82 L555.12,197.67 L556.30,198.53 L557.48,199.39 L558.67,200.26 L559.85,201.13 L561.04,202.00 L562.22,202.88 L563.41,203.76 L564.59,204.64 L565.78,205.52 L566.96,206.39 L568.14,207.27 L569.33,208.13 L570.51,209.00 L571.70,209.85 L572.88,210.70 L574.07,211.54 L575.25,212.36 L576.43,213.17 L577.62,213.97 L578.80,214.74 L579.99,215.50 L581.17,216.23 L582.36,216.94 L583.54,217.62 L584.73,218.27 L585.91,218.89 L587.09,219.48 L588.28,220.03 L589.46,220.54 L590.65,221.00 L591.83,221.42 L593.02,221.79 L594.20,222.10 L595.38,222.36 L596.57,222.56 L597.75,222.70 L598.94,222.77 L600.12,222.76 L601.31,222.69 L602.49,222.53 L603.68,222.30 L604.86,221.97 L606.04,221.56 L607.23,221.05 L608.41,220.45 L609.60,219.74 L610.78,218.93 L611.97,218.01 L613.15,216.97 L614.33,215.82 L615.52,214.55 L616.70,213.15 L617.89,211.62 L619.07,209.97 L620.26,208.18 L621.44,206.26 L622.63,204.20 L623.81,202.01 L624.99,199.67 L626.18,197.20 L627.36,194.59 L628.55,191.84 L629.73,188.95 L630.92,185.94 L632.10,182.79 L633.28,179.53 L634.47,176.15 L635.65,172.66 L636.84,169.07 L638.02,165.40 L639.21,161.66 L640.39,157.85 L641.58,154.02 L642.76,150.16 L643.94,146.31 L645.13,142.49 L646.31,138.74 L647.50,135.08 L648.68,131.56 L649.87,128.22 L651.05,125.11 L652.23,122.27 L653.42,119.78 L654.60,117.69 L655.79,116.08 L656.97,115.02 L658.16,114.61 L659.34,114.94 L660.53,116.12 L661.71,118.27 L662.89,121.50 L664.08,125.97 L665.26,131.83 L666.45,139.24 L667.63,148.39 L668.82,159.48 L670.00,172.72" stroke="#ffa500" stroke-width="3.25" stroke-linecap="square"/>
<path d="M79.00,172.10 L80.18,172.10 L81.37,172.09 L82.55,172.09 L83.74,172.08 L84.92,172.08 L86.11,172.07 L87.29,172.06 L88.47,172.06 L89.66,172.05 L90.84,172.05 L92.03,172.04 L93.21,172.03 L94.40,172.03 L95.58,172.02 L96.77,172.01 L97.95,172.01 L99.13,172.00 L100.32,171.99 L101.50,171.99 L102.69,171.98 L103.87,171.97 L105.06,171.97 L106.24,171.96 L107.42,171.95 L108.61,171.94 L109.79,171.94 L110.98,171.93 L112.16,171.92 L113.35,171.92 L114.53,171.91 L115.72,171.90 L116.90,171.89 L118.08,171.89 L119.27,171.88 L120.45,171.87 L121.64,171.86 L122.82,171.85 L124.01,171.85 L125.19,171.84 L126.37,171.83 L127.56,171.82 L128.74,171.81 L129.93,171.80 L131.11,171.80 L132.30,171.79 L133.48,171.78 L134.67,171.77 L135.85,171.76 L137.03,171.75 L138.22,171.74 L139.40,171.73 L140.59,171.73 L141.77,171.72 L142.96,171.71 L144.14,171.70 L145.32,171.69 L146.51,171.68 L147.69,171.67 L148.88,171.66 L150.06,171.65 L151.25,171.64 L152.43,171.63 L153.62,171.62 L154.80,171.61 L155.98,171.60 L157.17,171.59 L158.35,171.58 L159.54,171.57 L160.72,171.56 L161.91,171.55 L163.09,171.54 L164.27,171.52 L165.46,171.51 L166.64,171.50 L167.83,171.49 L169.01,171.48 L170.20,171.47 L171.38,171.46 L172.57,171.45 L173.75,171.43 L174.93,171.42 L176.12,171.41 L177.30,171.40 L178.49,171.39 L179.67,171.37 L180.86,171.36 L182.04,171.35 L183.22,171.34 L184.41,171.32 L185.59,171.31 L186.78,171.30 L187.96,171.29 L189.15,171.27 L190.33,171.26 L191.52,171.25 L192.70,171.23 L193.88,171.22 L195.07,171.20 L196.25,171.19 L197.44,171.18 L198.62,171.16 L199.81,171.15 L200.99,171.13 L202.17,171.12 L203.36,171.11 L204.54,171.09 L205.73,171.08 L206.91,171.06 L208.10,171.05 L209.28,171.03 L210.46,171.02 L211.65,171.00 L212.83,170.98 L214.02,170.97 L215.20,170.95 L216.39,170.94 L217.57,170.92 L218.76,170.90 L219.94,170.89 L221.12,170.87 L222.31,170.85 L223.49,170.84 L224.68,170.82 L225.86,170.80 L227.05,170.79 L228.23,170.77 L229.41,170.75 L230.60,170.73 L231.78,170.72 L232.97,170.70 L234.15,170.68 L235.34,170.66 L236.52,170.64 L237.71,170.62 L238.89,170.61 L240.07,170.59 L241.26,170.57 L242.44,170.55 L243.63,170.53 L244.81,170.51 L246.00,170.49 L247.18,170.47 L248.36,170.45 L249.55,170.43 L250.73,170.41 L251.92,170.39 L253.10,170.37 L254.29,170.35 L255.47,170.33 L256.66,170.30 L257.84,170.28 L259.02,170.26 L260.21,170.24 L261.39,170.22 L262.58,170.20 L263.76,170.17 L264.95,170.15 L266.13,170.13 L267.31,170.11 L268.50,170.08 L269.68,170.06 L270.87,170.04 L272.05,170.01 L273.24,169.99 L274.42,169.97 L275.61,169.94 L276.79,169.92 L277.97,169.89 L279.16,169.87 L280.34,169.85 L281.53,169.82 L282.71,169.80 L283.90,169.77 L285.08,169.75 L286.26,169.72 L287.45,169.69 L288.63,169.67 L289.82,169.64 L291.00,169.62 L292.19,169.59 L293.37,169.56 L294.56,169.54 L295.74,169.51 L296.92,169.48 L298.11,169.46 L299.29,169.43 L300.48,169.40 L301.66,169.37 L302.85,169.34 L304.03,169.32 L305.21,169.29 L306.40,169.26 L307.58,169.23 L308.77,169.20 L309.95,169.17 L311.14,169.14 L312.32,169.12 L313.51,169.09 L314.69,169.06 L315.87,169.03 L317.06,169.00 L318.24,168.97 L319.43,168.94 L320.61,168.91 L321.80,168.88 L322.98,168.84 L324.16,168.81 L325.35,168.78 L326.53,168.75 L327.72,168.72 L328.90,168.69 L330.09,168.66 L331.27,168.63 L332.45,168.59 L333.64,168.56 L334.82,168.53 L336.01,168.50 L337.19,168.47 L338.38,168.43 L339.56,168.40 L340.75,168.37 L341.93,168.34 L343.11,168.30 L344.30,168.27 L345.48,168.24 L346.67,168.20 L347.85,168.17 L349.04,168.14 L350.22,168.10 L351.40,168.07 L352.59,168.04 L353.77,168.01 L354.96,167.97 L356.14,167.94 L357.33,167.90 L358.51,167.87 L359.70,167.84 L360.88,167.80 L362.06,167.77 L363.25,167.74 L364.43,167.70 L365.62,167.67 L366.80,167.64 L367.99,167.61 L369.17,167.57 L370.35,167.54 L371.54,167.51 L372.72,167.47 L373.91,167.44 L375.09,167.41 L376.28,167.38 L377.46,167.34 L378.65,167.31 L379.83,167.28 L381.01,167.25 L382.20,167.22 L383.38,167.19 L384.57,167.15 L385.75,167.12 L386.94,167.09 L388.12,167.06 L389.30,167.03 L390.49,167.00 L391.67,166.98 L392.86,166.95 L394.04,166.92 L395.23,166.89 L396.41,166.86 L397.60,166.84 L398.78,166.81 L399.96,166.78 L401.15,166.76 L402.33,166.73 L403.52,166.71 L404.70,166.68 L405.89,166.66 L407.07,166.64 L408.25,166.62 L409.44,166.60 L410.62,166.58 L411.81,166.56 L412.99,166.54 L414.18,166.52 L415.36,166.50 L416.55,166.49 L417.73,166.47 L418.91,166.46 L420.10,166.44 L421.28,166.43 L422.47,166.42 L423.65,166.41 L424.84,166.40 L426.02,166.39 L427.20,166.39 L428.39,166.38 L429.57,166.38 L430.76,166.38 L431.94,166.38 L433.13,166.38 L434.31,166.38 L435.49,166.38 L436.68,166.39 L437.86,166.39 L439.05,166.40 L440.23,166.41 L441.42,166.43 L442.60,166.44 L443.79,166.46 L444.97,166.48 L446.15,166.50 L447.34,166.52 L448.52,166.54 L449.71,166.57 L450.89,166.60 L452.08,166.63 L453.26,166.67 L454.44,166.70 L455.63,166.74 L456.81,166.79 L458.00,166.83 L459.18,166.88 L460.37,166.93 L461.55,166.98 L462.74,167.04 L463.92,167.10 L465.10,167.17 L466.29,167.23 L467.47,167.30 L468.66,167.38 L469.84,167.45 L471.03,167.54 L472.21,167.62 L473.39,167.71 L474.58,167.80 L475.76,167.90 L476.95,168.00 L478.13,168.11 L479.32,168.22 L480.50,168.33 L481.69,168.45 L482.87,168.57 L484.05,168.70 L485.24,168.84 L486.42,168.98 L487.61,169.12 L488.79,169.27 L489.98,169.42 L491.16,169.58 L492.34,169.75 L493.53,169.92 L494.71,170.10 L495.90,170.28 L497.08,170.47 L498.27,170.66 L499.45,170.86 L500.64,171.07 L501.82,171.28 L503.00,171.50 L504.19,171.73 L505.37,171.96 L506.56,172.20 L507.74,172.45 L508.93,172.71 L510.11,172.97 L511.29,173.24 L512.48,173.51 L513.66,173.80 L514.85,174.09 L516.03,174.39 L517.22,174.69 L518.40,175.01 L519.59,175.33 L520.77,175.66 L521.95,176.00 L523.14,176.34 L524.32,176.70 L525.51,177.06 L526.69,177.43 L527.88,177.81 L529.06,178.19 L530.24,178.59 L531.43,178.99 L532.61,179.40 L533.80,179.82 L534.98,180.25 L536.17,180.68 L537.35,181.12 L538.54,181.57 L539.72,182.03 L540.90,182.50 L542.09,182.97 L543.27,183.45 L544.46,183.94 L545.64,184.43 L546.83,184.93 L548.01,185.44 L549.19,185.96 L550.38,186.48 L551.56,187.00 L552.75,187.53 L553.93,188.07 L555.12,188.61 L556.30,189.16 L557.48,189.71 L558.67,190.26 L559.85,190.81 L561.04,191.37 L562.22,191.93 L563.41,192.49 L564.59,193.05 L565.78,193.61 L566.96,194.16 L568.14,194.72 L569.33,195.27 L570.51,195.82 L571.70,196.37 L572.88,196.91 L574.07,197.44 L575.25,197.97 L576.43,198.48 L577.62,198.99 L578.80,199.48 L579.99,199.96 L581.17,200.43 L582.36,200.88 L583.54,201.32 L584.73,201.73 L585.91,202.13 L587.09,202.50 L588.28,202.85 L589.46,203.17 L590.65,203.47 L591.83,203.73 L593.02,203.97 L594.20,204.17 L595.38,204.33 L596.57,204.46 L597.75,204.55 L598.94,204.59 L600.12,204.59 L601.31,204.54 L602.49,204.44 L603.68,204.29 L604.86,204.09 L606.04,203.82 L607.23,203.50 L608.41,203.12 L609.60,202.67 L610.78,202.15 L611.97,201.56 L613.15,200.90 L614.33,200.17 L615.52,199.36 L616.70,198.47 L617.89,197.50 L619.07,196.44 L620.26,195.30 L621.44,194.08 L622.63,192.77 L623.81,191.37 L624.99,189.88 L626.18,188.31 L627.36,186.65 L628.55,184.90 L629.73,183.06 L630.92,181.14 L632.10,179.14 L633.28,177.06 L634.47,174.90 L635.65,172.68 L636.84,170.40 L638.02,168.06 L639.21,165.68 L640.39,163.26 L641.58,160.81 L642.76,158.35 L643.94,155.90 L645.13,153.47 L646.31,151.08 L647.50,148.75 L648.68,146.51 L649.87,144.38 L651.05,142.40 L652.23,140.60 L653.42,139.01 L654.60,137.68 L655.79,136.65 L656.97,135.98 L658.16,135.72 L659.34,135.93 L660.53,136.68 L661.71,138.05 L662.89,140.11 L664.08,142.95 L665.26,146.68 L666.45,151.40 L667.63,157.23 L668.82,164.29 L670.00,172.72" stroke="#008000" stroke-width="3.25" stroke-linecap="square"/>
</g>
<g clip-path="url(#c2)" fill="none" stroke-linejoin="round">
<path d="M79.00,374.11 L79.01,374.11 L79.05,374.11 L79.11,374.11 L79.19,374.11 L79.30,374.11 L79.43,374.11 L79.58,374.11 L79.76,374.11 L79.96,374.11 L80.19,374.11 L80.43,374.11 L80.71,374.11 L81.00,374.11 L81.32,374.11 L81.66,374.11 L82.03,374.11 L82.42,374.11 L82.83,374.11 L83.27,374.11 L83.73,374.11 L84.21,374.11 L84.72,374.11 L85.25,374.11 L85.80,374.11 L86.37,374.11 L86.97,374.11 L87.59,374.11 L88.24,374.11 L88.90,374.11 L89.59,374.11 L90.30,374.11 L91.04,374.11 L91.79,374.11 L92.57,374.11 L93.37,374.11 L94.20,374.11 L95.04,374.11 L95.91,374.11 L96.80,374.11 L97.71,374.11 L98.64,374.11 L99.60,374.11 L100.57,374.11 L101.57,374.11 L102.59,374.11 L103.63,374.11 L104.69,374.11 L105.77,374.11 L106.87,374.11 L107.99,374.11 L109.14,374.11 L110.30,374.11 L111.48,374.11 L112.69,374.11 L113.91,374.11 L115.15,374.11 L116.42,374.11 L117.70,374.11 L119.00,374.11 L120.33,374.11 L121.67,374.11 L123.03,374.11 L124.41,374.11 L125.80,374.11 L127.22,374.11 L128.66,374.11 L130.11,374.11 L131.58,374.11 L133.07,374.11 L134.58,374.11 L136.10,374.11 L137.64,374.11 L139.20,374.11 L140.78,374.11 L142.37,374.11 L143.98,374.11 L145.61,374.11 L147.25,374.11 L148.91,374.11 L150.58,374.11 L152.27,374.11 L153.98,374.11 L155.70,374.11 L157.44,374.11 L159.19,374.11 L160.96,374.11 L162.74,374.11 L164.54,374.11 L166.35,374.11 L168.17,374.11 L170.01,374.11 L171.86,374.11 L173.73,374.11 L175.61,374.11 L177.50,374.11 L179.41,374.11 L181.32,374.11 L183.25,374.11 L185.20,374.11 L187.15,374.11 L189.12,374.11 L191.09,374.11 L193.08,374.11 L195.08,374.11 L197.09,374.11 L199.12,374.11 L201.15,374.11 L203.19,374.11 L205.24,374.11 L207.31,374.11 L209.38,374.11 L211.46,374.11 L213.55,374.11 L215.65,374.11 L217.76,374.11 L219.87,374.11 L222.00,374.11 L224.13,374.11 L226.27,374.11 L228.42,374.11 L230.57,374.11 L232.73,374.11 L234.90,374.11 L237.08,374.11 L239.26,374.11 L241.45,374.11 L243.64,374.11 L245.84,374.11 L248.04,374.11 L250.25,374.11 L252.47,374.11 L254.69,374.11 L256.91,374.11 L259.14,374.11 L261.37,374.11 L263.60,374.11 L265.84,374.11 L268.08,374.11 L270.32,374.11 L272.57,374.11 L274.82,374.11 L277.07,374.11 L279.32,374.11 L281.58,374.11 L283.83,374.11 L286.09,374.11 L288.35,374.11 L290.61,374.11 L292.87,374.11 L295.12,374.11 L297.38,374.11 L299.64,374.11 L301.90,374.11 L304.16,374.11 L306.41,374.11 L308.67,374.11 L310.92,374.11 L313.17,374.11 L315.42,374.11 L317.67,374.11 L319.91,374.11 L322.15,374.11 L324.39,374.11 L326.62,374.11 L328.85,374.11 L331.08,374.11 L333.30,374.11 L335.52,374.11 L337.74,374.11 L339.95,374.11 L342.15,374.11 L344.35,374.11 L346.54,374.11 L348.73,374.11 L350.91,374.11 L353.09,374.11 L355.26,374.11 L357.42,374.11 L359.57,374.11 L361.72,374.11 L363.86,374.11 L365.99,374.11 L368.12,374.11 L370.23,374.11 L372.34,374.11 L374.44,374.11 L376.53,374.11 L378.61,374.11 L380.68,374.11 L382.75,374.11 L384.80,374.11 L386.84,374.11 L388.87,374.11 L390.90,374.11 L392.91,374.11 L394.91,374.12 L396.90,374.12 L398.87,374.12 L400.84,374.12 L402.79,374.12 L404.74,374.12 L406.67,374.12 L408.58,374.12 L410.49,374.12 L412.38,374.12 L414.26,374.12 L416.13,374.12 L417.98,374.12 L419.82,374.12 L421.64,374.12 L423.45,374.12 L425.25,374.12 L427.03,374.12 L428.80,374.12 L430.55,374.12 L432.29,374.12 L434.01,374.12 L435.72,374.12 L437.41,374.12 L439.08,374.13 L440.74,374.13 L442.38,374.13 L444.01,374.13 L445.62,374.13 L447.21,374.13 L448.79,374.13 L450.35,374.13 L451.89,374.13 L453.41,374.13 L454.92,374.13 L456.41,374.13 L457.88,374.14 L459.33,374.14 L460.77,374.14 L462.19,374.14 L463.58,374.14 L464.96,374.14 L466.32,374.14 L467.66,374.15 L468.99,374.15 L470.29,374.15 L471.57,374.15 L472.84,374.15 L474.08,374.15 L475.30,374.16 L476.51,374.16 L477.69,374.16 L478.85,374.16 L480.00,374.17 L481.12,374.17 L482.22,374.17 L483.30,374.18 L484.36,374.18 L485.40,374.18 L486.42,374.19 L487.42,374.19 L488.39,374.20 L489.35,374.20 L490.28,374.21 L491.19,374.21 L492.08,374.22 L492.95,374.23 L493.79,374.23 L494.62,374.24 L495.42,374.25 L496.20,374.26 L496.95,374.27 L497.69,374.28 L498.40,374.30 L499.09,374.31 L499.75,374.33 L500.40,374.34 L501.02,374.36 L501.62,374.39 L502.19,374.41 L502.74,374.44 L503.27,374.47 L503.78,374.51 L504.26,374.55 L504.72,374.60 L505.16,374.66 L505.57,374.73 L505.96,374.81 L506.33,374.91 L506.67,375.03 L506.99,375.18 L507.28,375.36 L507.56,375.60 L507.80,375.91 L508.03,376.33 L508.23,376.91 L508.41,377.75 L508.56,379.01 L508.69,381.04 L508.80,384.57 L508.88,391.44 L508.94,406.70 L508.98,443.12 L508.99,444.48 M509.03,303.73 L509.03,303.73 L509.04,309.33 L509.06,331.32 L509.09,345.10 L509.12,353.59 L509.16,358.99 L509.20,362.58 L509.25,365.05 L509.31,366.82 L509.38,368.13 L509.45,369.11 L509.53,369.88 L509.62,370.48 L509.71,370.96 L509.81,371.35 L509.92,371.68 L510.04,371.95 L510.16,372.17 L510.29,372.36 L510.42,372.53 L510.56,372.67 L510.71,372.80 L510.87,372.90 L511.03,373.00 L511.20,373.08 L511.38,373.16 L511.56,373.22 L511.75,373.28 L511.95,373.34 L512.15,373.39 L512.36,373.43 L512.57,373.47 L512.80,373.51 L513.03,373.54 L513.26,373.57 L513.50,373.60 L513.75,373.62 L514.01,373.65 L514.27,373.67 L514.54,373.69 L514.81,373.71 L515.09,373.73 L515.38,373.74 L515.67,373.76 L515.97,373.77 L516.28,373.78 L516.59,373.80 L516.91,373.81 L517.23,373.82 L517.57,373.83 L517.90,373.84 L518.24,373.85 L518.59,373.86 L518.95,373.86 L519.31,373.87 L519.67,373.88 L520.05,373.89 L520.42,373.89 L520.81,373.90 L521.20,373.91 L521.59,373.91 L521.99,373.92 L522.40,373.92 L522.81,373.93 L523.23,373.93 L523.65,373.94 L524.08,373.94 L524.51,373.94 L524.95,373.95 L525.39,373.95 L525.84,373.95 L526.29,373.96 L526.75,373.96 L527.22,373.96 L527.69,373.97 L528.16,373.97 L528.64,373.97 L529.12,373.97 L529.61,373.98 L530.10,373.98 L530.60,373.98 L531.10,373.98 L531.61,373.99 L532.12,373.99 L532.64,373.99 L533.16,373.99 L533.68,373.99 L534.21,374.00 L534.74,374.00 L535.28,374.00 L535.82,374.00 L536.37,374.00 L536.92,374.00 L537.47,374.01 L538.03,374.01 L538.59,374.01 L539.15,374.01 L539.72,374.01 L540.29,374.01 L540.87,374.01 L541.45,374.01 L542.03,374.01 L542.61,374.02 L543.20,374.02 L543.80,374.02 L544.39,374.02 L544.99,374.02 L545.59,374.02 L546.19,374.02 L546.80,374.02 L547.41,374.02 L548.02,374.02 L548.64,374.02 L549.26,374.02 L549.88,374.03 L550.50,374.03 L551.13,374.03 L551.75,374.03 L552.38,374.03 L553.02,374.03 L553.65,374.03 L554.29,374.03 L554.93,374.03 L555.57,374.03 L556.21,374.03 L556.85,374.03 L557.50,374.03 L558.14,374.03 L558.79,374.03 L559.44,374.03 L560.10,374.03 L560.75,374.03 L561.40,374.03 L562.06,374.03 L562.72,374.03 L563.37,374.03 L564.03,374.03 L564.69,374.03 L565.35,374.03 L566.01,374.03 L566.68,374.03 L567.34,374.04 L568.00,374.04 L568.67,374.04 L569.33,374.04 L569.99,374.04 L570.66,374.04 L571.32,374.04 L571.99,374.04 L572.65,374.04 L573.32,374.04 L573.98,374.04 L574.65,374.04 L575.31,374.04 L575.98,374.04 L576.64,374.04 L577.30,374.04 L577.97,374.03 L578.63,374.03 L579.29,374.03 L579.95,374.03 L580.61,374.03 L581.27,374.03 L581.93,374.03 L582.58,374.03 L583.24,374.03 L583.89,374.03 L584.55,374.03 L585.20,374.03 L585.85,374.03 L586.50,374.03 L587.14,374.03 L587.79,374.03 L588.43,374.03 L589.08,374.03 L589.72,374.03 L590.36,374.03 L590.99,374.03 L591.63,374.03 L592.26,374.03 L592.89,374.03 L593.52,374.03 L594.14,374.03 L594.76,374.03 L595.38,374.02 L596.00,374.02 L596.62,374.02 L597.23,374.02 L597.84,374.02 L598.45,374.02 L599.05,374.02 L599.65,374.02 L600.25,374.02 L600.85,374.02 L601.44,374.02 L602.03,374.02 L602.61,374.01 L603.20,374.01 L603.77,374.01 L604.35,374.01 L604.92,374.01 L605.49,374.01 L606.05,374.01 L606.62,374.01 L607.17,374.01 L607.73,374.00 L608.27,374.00 L608.82,374.00 L609.36,374.00 L609.90,374.00 L610.43,374.00 L610.96,373.99 L611.48,373.99 L612.00,373.99 L612.52,373.99 L613.03,373.99 L613.54,373.98 L614.04,373.98 L614.54,373.98 L615.03,373.98 L615.52,373.97 L616.00,373.97 L616.48,373.97 L616.96,373.97 L617.43,373.96 L617.89,373.96 L618.35,373.96 L618.80,373.95 L619.25,373.95 L619.70,373.95 L620.13,373.94 L620.57,373.94 L620.99,373.94 L621.42,373.93 L621.83,373.93 L622.25,373.92 L622.65,373.92 L623.05,373.91 L623.45,373.91 L623.84,373.90 L624.22,373.89 L624.60,373.89 L624.97,373.88 L625.33,373.87 L625.70,373.86 L626.05,373.86 L626.40,373.85 L626.74,373.84 L627.08,373.83 L627.41,373.82 L627.73,373.81 L628.05,373.80 L628.36,373.78 L628.67,373.77 L628.97,373.76 L629.26,373.74 L629.55,373.73 L629.83,373.71 L630.10,373.69 L630.37,373.67 L630.63,373.65 L630.89,373.62 L631.14,373.60 L631.38,373.57 L631.62,373.54 L631.85,373.51 L632.07,373.47 L632.28,373.43 L632.49,373.39 L632.70,373.34 L632.89,373.28 L633.08,373.22 L633.27,373.16 L633.44,373.08 L633.61,373.00 L633.77,372.90 L633.93,372.80 L634.08,372.67 L634.22,372.53 L634.36,372.36 L634.48,372.17 L634.61,371.95 L634.72,371.68 L634.83,371.35 L634.93,370.96 L635.02,370.48 L635.11,369.88 L635.19,369.11 L635.26,368.13 L635.33,366.82 L635.39,365.05 L635.44,362.58 L635.49,358.99 L635.52,353.59 L635.56,345.10 L635.58,331.32 L635.60,309.33 L635.61,303.73 L635.61,303.73 M635.65,444.48 L635.65,444.48 L635.66,444.48 L635.66,444.48 L635.67,436.65 L635.68,424.44 L635.69,414.74 L635.70,407.21 L635.71,401.37 L635.73,396.83 L635.75,393.27 L635.77,390.44 L635.79,388.16 L635.81,386.31 L635.84,384.79 L635.86,383.54 L635.89,382.48 L635.93,381.59 L635.96,380.83 L635.99,380.18 L636.03,379.62 L636.07,379.13 L636.11,378.70 L636.15,378.33 L636.20,377.99 L636.24,377.70 L636.29,377.44 L636.34,377.20 L636.39,376.99 L636.44,376.80 L636.50,376.63 L636.56,376.47 L636.61,376.33 L636.67,376.20 L636.74,376.08 L636.80,375.97 L636.87,375.87 L636.93,375.78 L637.00,375.69 L637.07,375.61 L637.15,375.54 L637.22,375.47 L637.30,375.41 L637.38,375.35 L637.45,375.29 L637.54,375.24 L637.62,375.19 L637.70,375.15 L637.79,375.11 L637.88,375.07 L637.97,375.03 L638.06,374.99 L638.15,374.96 L638.25,374.93 L638.34,374.90 L638.44,374.87 L638.54,374.84 L638.64,374.82 L638.74,374.80 L638.85,374.77 L638.95,374.75 L639.06,374.73 L639.17,374.71 L639.28,374.69 L639.39,374.67 L639.50,374.66 L639.62,374.64 L639.73,374.62 L639.85,374.61 L639.97,374.60 L640.09,374.58 L640.21,374.57 L640.34,374.56 L640.46,374.54 L640.59,374.53 L640.71,374.52 L640.84,374.51 L640.97,374.50 L641.10,374.49 L641.24,374.48 L641.37,374.47 L641.51,374.46 L641.64,374.45 L641.78,374.45 L641.92,374.44 L642.06,374.43 L642.20,374.42 L642.34,374.42 L642.48,374.41 L642.63,374.40 L642.78,374.40 L642.92,374.39 L643.07,374.38 L643.22,374.38 L643.37,374.37 L643.52,374.37 L643.67,374.36 L643.83,374.36 L643.98,374.35 L644.14,374.35 L644.29,374.34 L644.45,374.34 L644.61,374.33 L644.77,374.33 L644.92,374.33 L645.09,374.32 L645.25,374.32 L645.41,374.31 L645.57,374.31 L645.74,374.31 L645.90,374.30 L646.07,374.30 L646.23,374.30 L646.40,374.29 L646.57,374.29 L646.74,374.29 L646.91,374.28 L647.07,374.28 L647.25,374.28 L647.42,374.28 L647.59,374.27 L647.76,374.27 L647.93,374.27 L648.11,374.27 L648.28,374.26 L648.45,374.26 L648.63,374.26 L648.80,374.26 L648.98,374.25 L649.16,374.25 L649.33,374.25 L649.51,374.25 L649.69,374.25 L649.86,374.24 L650.04,374.24 L650.22,374.24 L650.40,374.24 L650.58,374.24 L650.76,374.23 L650.94,374.23 L651.11,374.23 L651.29,374.23 L651.47,374.23 L651.65,374.23 L651.83,374.23 L652.01,374.22 L652.19,374.22 L652.37,374.22 L652.56,374.22 L652.74,374.22 L652.92,374.22 L653.10,374.22 L653.28,374.21 L653.46,374.21 L653.64,374.21 L653.82,374.21 L654.00,374.21 L654.18,374.21 L654.36,374.21 L654.54,374.21 L654.72,374.21 L654.90,374.20 L655.08,374.20 L655.25,374.20 L655.43,374.20 L655.61,374.20 L655.79,374.20 L655.97,374.20 L656.14,374.20 L656.32,374.20 L656.50,374.20 L656.67,374.19 L656.85,374.19 L657.02,374.19 L657.20,374.19 L657.37,374.19 L657.55,374.19 L657.72,374.19 L657.89,374.19 L658.06,374.19 L658.24,374.19 L658.41,374.19 L658.58,374.19 L658.75,374.19 L658.92,374.18 L659.08,374.18 L659.25,374.18 L659.42,374.18 L659.59,374.18 L659.75,374.18 L659.92,374.18 L660.08,374.18 L660.24,374.18 L660.41,374.18 L660.57,374.18 L660.73,374.18 L660.89,374.18 L661.05,374.18 L661.20,374.18 L661.36,374.18 L661.52,374.18 L661.67,374.18 L661.83,374.18 L661.98,374.17 L662.13,374.17 L662.28,374.17 L662.43,374.17 L662.58,374.17 L662.73,374.17 L662.88,374.17 L663.02,374.17 L663.17,374.17 L663.31,374.17 L663.45,374.17 L663.59,374.17 L663.73,374.17 L663.87,374.17 L664.01,374.17 L664.15,374.18 L664.28,374.18 L664.42,374.18 L664.55,374.18 L664.68,374.18 L664.81,374.18 L664.94,374.18 L665.07,374.19 L665.19,374.19 L665.32,374.19 L665.44,374.20 L665.56,374.20 L665.68,374.21 L665.80,374.21 L665.92,374.22 L666.03,374.22 L666.15,374.23 L666.26,374.24 L666.37,374.25 L666.48,374.26 L666.59,374.28 L666.70,374.29 L666.80,374.31 L666.91,374.32 L667.01,374.34 L667.11,374.36 L667.21,374.39 L667.31,374.41 L667.41,374.44 L667.50,374.47 L667.59,374.50 L667.68,374.54 L667.77,374.58 L667.86,374.62 L667.95,374.67 L668.03,374.72 L668.12,374.78 L668.20,374.83 L668.28,374.90 L668.35,374.96 L668.43,375.03 L668.51,375.11 L668.58,375.19 L668.65,375.27 L668.72,375.36 L668.79,375.46 L668.85,375.55 L668.92,375.66 L668.98,375.76 L669.04,375.87 L669.10,375.99 L669.15,376.11 L669.21,376.23 L669.26,376.36 L669.31,376.49 L669.36,376.62 L669.41,376.75 L669.46,376.89 L669.50,377.03 L669.54,377.17 L669.58,377.30 L669.62,377.44 L669.66,377.58 L669.69,377.71 L669.73,377.85 L669.76,377.98 L669.79,378.10 L669.81,378.22 L669.84,378.34 L669.86,378.45 L669.89,378.56 L669.91,378.66 L669.92,378.75 L669.94,378.83 L669.95,378.90 L669.97,378.97 L669.98,379.03 L669.98,379.07 L669.99,379.11 L670.00,379.13 L670.00,379.15 L670.00,379.16 M509.01,318.85 L509.01,429.6 M635.63,318.85 L635.63,429.6" stroke="#ff0000" stroke-width="3.1"/>
<path d="M79.00,374.11 L79.01,374.11 L79.05,374.11 L79.11,374.11 L79.19,374.11 L79.30,374.11 L79.43,374.11 L79.58,374.11 L79.76,374.11 L79.96,374.11 L80.19,374.11 L80.43,374.11 L80.71,374.11 L81.00,374.11 L81.32,374.11 L81.66,374.11 L82.03,374.11 L82.42,374.11 L82.83,374.11 L83.27,374.11 L83.73,374.11 L84.21,374.11 L84.72,374.11 L85.25,374.11 L85.80,374.11 L86.37,374.11 L86.97,374.11 L87.59,374.11 L88.24,374.11 L88.90,374.11 L89.59,374.11 L90.30,374.11 L91.04,374.11 L91.79,374.11 L92.57,374.11 L93.37,374.11 L94.20,374.11 L95.04,374.11 L95.91,374.11 L96.80,374.11 L97.71,374.11 L98.64,374.11 L99.60,374.11 L100.57,374.11 L101.57,374.11 L102.59,374.11 L103.63,374.11 L104.69,374.11 L105.77,374.11 L106.87,374.11 L107.99,374.11 L109.14,374.11 L110.30,374.11 L111.48,374.11 L112.69,374.11 L113.91,374.11 L115.15,374.11 L116.42,374.11 L117.70,374.11 L119.00,374.11 L120.33,374.11 L121.67,374.11 L123.03,374.23 L124.41,374.23 L125.80,374.23 L127.22,374.23 L128.66,374.23 L130.11,374.23 L131.58,374.23 L133.07,374.23 L134.58,374.23 L136.10,374.23 L137.64,374.23 L139.20,374.23 L140.78,374.23 L142.37,374.23 L143.98,374.23 L145.61,374.23 L147.25,374.23 L148.91,374.23 L150.58,374.23 L152.27,374.23 L153.98,374.23 L155.70,374.23 L157.44,374.23 L159.19,374.23 L160.96,374.23 L162.74,374.23 L164.54,374.23 L166.35,374.23 L168.17,374.23 L170.01,374.23 L171.86,374.23 L173.73,374.23 L175.61,374.23 L177.50,374.23 L179.41,374.23 L181.32,374.23 L183.25,374.23 L185.20,374.23 L187.15,374.23 L189.12,374.23 L191.09,374.23 L193.08,374.23 L195.08,374.23 L197.09,374.23 L199.12,374.23 L201.15,374.23 L203.19,374.23 L205.24,374.23 L207.31,374.23 L209.38,374.23 L211.46,374.23 L213.55,374.23 L215.65,374.23 L217.76,374.23 L219.87,374.23 L222.00,374.23 L224.13,374.23 L226.27,374.23 L228.42,374.23 L230.57,374.23 L232.73,374.23 L234.90,374.23 L237.08,374.23 L239.26,374.23 L241.45,374.23 L243.64,374.23 L245.84,374.23 L248.04,374.23 L250.25,374.23 L252.47,374.23 L254.69,374.23 L256.91,374.23 L259.14,374.23 L261.37,374.23 L263.60,374.23 L265.84,374.23 L268.08,374.23 L270.32,374.23 L272.57,374.23 L274.82,374.23 L277.07,374.23 L279.32,374.23 L281.58,374.23 L283.83,374.23 L286.09,374.23 L288.35,374.23 L290.61,374.23 L292.87,374.23 L295.12,374.23 L297.38,374.23 L299.64,374.23 L301.90,374.23 L304.16,374.23 L306.41,374.23 L308.67,374.23 L310.92,374.23 L313.17,374.23 L315.42,374.23 L317.67,374.23 L319.91,374.23 L322.15,374.23 L324.39,374.23 L326.62,374.23 L328.85,374.23 L331.08,374.23 L333.30,374.23 L335.52,374.23 L337.74,374.23 L339.95,374.23 L342.15,374.23 L344.35,374.23 L346.54,374.23 L348.73,374.23 L350.91,374.23 L353.09,374.23 L355.26,374.23 L357.42,374.23 L359.57,374.23 L361.72,374.23 L363.86,374.23 L365.99,374.23 L368.12,374.23 L370.23,374.23 L372.34,374.23 L374.44,374.23 L376.53,374.23 L378.61,374.23 L380.68,374.23 L382.75,374.23 L384.80,374.23 L386.84,374.23 L388.87,374.23 L390.90,374.23 L392.91,374.23 L394.91,374.24 L396.90,374.24 L398.87,374.24 L400.84,374.24 L402.79,374.24 L404.74,374.24 L406.67,374.24 L408.58,374.24 L410.49,374.24 L412.38,374.24 L414.26,374.24 L416.13,374.24 L417.98,374.24 L419.82,374.24 L421.64,374.24 L423.45,374.24 L425.25,374.24 L427.03,374.24 L428.80,374.24 L430.55,374.24 L432.29,374.24 L434.01,374.24 L435.72,374.24 L437.41,374.24 L439.08,374.25 L440.74,374.25 L442.38,374.25 L444.01,374.25 L445.62,374.25 L447.21,374.25 L448.79,374.25 L450.35,374.25 L451.89,374.25 L453.41,374.25 L454.92,374.25 L456.41,374.25 L457.88,374.26 L459.33,374.26 L460.77,374.26 L462.19,374.26 L463.58,374.26 L464.96,374.26 L466.32,374.26 L467.66,374.27 L468.99,374.27 L470.29,374.27 L471.57,374.27 L472.84,374.27 L474.08,374.27 L475.30,374.28 L476.51,374.28 L477.69,374.28 L478.85,374.28 L480.00,374.29 L481.12,374.29 L482.22,374.29 L483.30,374.30 L484.36,374.30 L485.40,374.30 L486.42,374.31 L487.42,374.31 L488.39,374.32 L489.35,374.32 L490.28,374.33 L491.19,374.33 L492.08,374.34 L492.95,374.35 L493.79,374.35 L494.62,374.36 L495.42,374.37 L496.20,374.38 L496.95,374.39 L497.69,374.40 L498.40,374.42 L499.09,374.43 L499.75,374.45 L500.40,374.46 L501.02,374.48 L501.62,374.51 L502.19,374.53 L502.74,374.56 L503.27,374.59 L503.78,374.63 L504.26,374.67 L504.72,374.72 L505.16,374.78 L505.57,374.85 L505.96,374.93 L506.33,375.03 L506.67,375.15 L506.99,375.30 L507.28,375.48 L507.56,375.72 L507.80,376.03 L508.03,376.45 L508.23,377.03 L508.41,377.87 L508.56,379.13 L508.69,381.16 L508.80,384.69 L508.88,391.56 L508.94,406.82 L508.98,443.24 L508.99,444.60 M509.03,303.85 L509.03,303.85 L509.04,309.45 L509.06,331.44 L509.09,345.22 L509.12,353.71 L509.16,359.11 L509.20,362.70 L509.25,365.17 L509.31,366.94 L509.38,368.25 L509.45,369.23 L509.53,370.00 L509.62,370.60 L509.71,371.08 L509.81,371.47 L509.92,371.80 L510.04,372.07 L510.16,372.29 L510.29,372.48 L510.42,372.65 L510.56,372.79 L510.71,372.92 L510.87,373.02 L511.03,373.12 L511.20,373.20 L511.38,373.28 L511.56,373.34 L511.75,373.40 L511.95,373.46 L512.15,373.51 L512.36,373.55 L512.57,373.59 L512.80,373.63 L513.03,373.66 L513.26,373.69 L513.50,373.72 L513.75,373.74 L514.01,373.77 L514.27,373.79 L514.54,373.81 L514.81,373.83 L515.09,373.85 L515.38,373.86 L515.67,373.88 L515.97,373.89 L516.28,373.90 L516.59,373.92 L516.91,373.93 L517.23,373.94 L517.57,373.95 L517.90,373.96 L518.24,373.97 L518.59,373.98 L518.95,373.98 L519.31,373.99 L519.67,374.00 L520.05,374.01 L520.42,374.01 L520.81,374.02 L521.20,374.03 L521.59,374.03 L521.99,374.04 L522.40,374.04 L522.81,374.05 L523.23,374.05 L523.65,374.06 L524.08,374.06 L524.51,374.06 L524.95,374.07 L525.39,374.07 L525.84,374.07 L526.29,374.08 L526.75,374.08 L527.22,374.08 L527.69,374.09 L528.16,374.09 L528.64,374.09 L529.12,374.09 L529.61,374.10 L530.10,374.10 L530.60,374.10 L531.10,374.10 L531.61,374.11 L532.12,374.11 L532.64,374.11 L533.16,374.11 L533.68,374.11 L534.21,374.12 L534.74,374.12 L535.28,374.12 L535.82,374.12 L536.37,374.12 L536.92,374.12 L537.47,374.13 L538.03,374.13 L538.59,374.13 L539.15,374.13 L539.72,374.13 L540.29,374.13 L540.87,374.13 L541.45,374.13 L542.03,374.13 L542.61,374.14 L543.20,374.14 L543.80,374.14 L544.39,374.14 L544.99,374.14 L545.59,374.14 L546.19,374.14 L546.80,374.14 L547.41,374.14 L548.02,374.14 L548.64,374.14 L549.26,374.14 L549.88,374.15 L550.50,374.15 L551.13,374.15 L551.75,374.15 L552.38,374.15 L553.02,374.15 L553.65,374.15 L554.29,374.15 L554.93,374.15 L555.57,374.15 L556.21,374.15 L556.85,374.15 L557.50,374.15 L558.14,374.15 L558.79,374.15 L559.44,374.15 L560.10,374.15 L560.75,374.15 L561.40,374.15 L562.06,374.15 L562.72,374.15 L563.37,374.15 L564.03,374.15 L564.69,374.15 L565.35,374.15 L566.01,374.15 L566.68,374.15 L567.34,374.16 L568.00,374.16 L568.67,374.16 L569.33,374.16 L569.99,374.16 L570.66,374.16 L571.32,374.16 L571.99,374.16 L572.65,374.16 L573.32,374.16 L573.98,374.16 L574.65,374.16 L575.31,374.16 L575.98,374.16 L576.64,374.16 L577.30,374.16 L577.97,374.15 L578.63,374.15 L579.29,374.15 L579.95,374.15 L580.61,374.15 L581.27,374.15 L581.93,374.15 L582.58,374.15 L583.24,374.15 L583.89,374.15 L584.55,374.15 L585.20,374.15 L585.85,374.15 L586.50,374.15 L587.14,374.15 L587.79,374.15 L588.43,374.15 L589.08,374.15 L589.72,374.15 L590.36,374.15 L590.99,374.15 L591.63,374.15 L592.26,374.15 L592.89,374.15 L593.52,374.15 L594.14,374.15 L594.76,374.15 L595.38,374.14 L596.00,374.14 L596.62,374.14 L597.23,374.14 L597.84,374.14 L598.45,374.14 L599.05,374.14 L599.65,374.14 L600.25,374.14 L600.85,374.14 L601.44,374.14 L602.03,374.14 L602.61,374.13 L603.20,374.13 L603.77,374.13 L604.35,374.13 L604.92,374.13 L605.49,374.13 L606.05,374.13 L606.62,374.13 L607.17,374.13 L607.73,374.12 L608.27,374.12 L608.82,374.12 L609.36,374.12 L609.90,374.12 L610.43,374.12 L610.96,374.11 L611.48,374.11 L612.00,374.11 L612.52,374.11 L613.03,374.11 L613.54,374.10 L614.04,374.10 L614.54,374.10 L615.03,374.10 L615.52,374.09 L616.00,374.09 L616.48,374.09 L616.96,374.09 L617.43,374.08 L617.89,374.08 L618.35,374.08 L618.80,374.07 L619.25,374.07 L619.70,374.07 L620.13,374.06 L620.57,374.06 L620.99,374.06 L621.42,374.05 L621.83,374.05 L622.25,374.04 L622.65,374.04 L623.05,374.03 L623.45,374.03 L623.84,374.02 L624.22,374.01 L624.60,374.01 L624.97,374.00 L625.33,373.99 L625.70,373.98 L626.05,373.98 L626.40,373.97 L626.74,373.96 L627.08,373.95 L627.41,373.94 L627.73,373.93 L628.05,373.92 L628.36,373.90 L628.67,373.89 L628.97,373.88 L629.26,373.86 L629.55,373.85 L629.83,373.83 L630.10,373.81 L630.37,373.79 L630.63,373.77 L630.89,373.74 L631.14,373.72 L631.38,373.69 L631.62,373.66 L631.85,373.63 L632.07,373.59 L632.28,373.55 L632.49,373.51 L632.70,373.46 L632.89,373.40 L633.08,373.34 L633.27,373.28 L633.44,373.20 L633.61,373.12 L633.77,373.02 L633.93,372.92 L634.08,372.79 L634.22,372.65 L634.36,372.48 L634.48,372.29 L634.61,372.07 L634.72,371.80 L634.83,371.47 L634.93,371.08 L635.02,370.60 L635.11,370.00 L635.19,369.23 L635.26,368.25 L635.33,366.94 L635.39,365.17 L635.44,362.70 L635.49,359.11 L635.52,353.71 L635.56,345.22 L635.58,331.44 L635.60,309.45 L635.61,303.85 L635.61,303.85 M635.65,444.60 L635.65,444.60 L635.66,444.60 L635.66,444.60 L635.67,436.77 L635.68,424.56 L635.69,414.86 L635.70,407.33 L635.71,401.49 L635.73,396.95 L635.75,393.39 L635.77,390.56 L635.79,388.28 L635.81,386.43 L635.84,384.91 L635.86,383.66 L635.89,382.60 L635.93,381.71 L635.96,380.95 L635.99,380.30 L636.03,379.74 L636.07,379.25 L636.11,378.82 L636.15,378.45 L636.20,378.11 L636.24,377.82 L636.29,377.56 L636.34,377.32 L636.39,377.11 L636.44,376.92 L636.50,376.75 L636.56,376.59 L636.61,376.45 L636.67,376.32 L636.74,376.20 L636.80,376.09 L636.87,375.99 L636.93,375.90 L637.00,375.81 L637.07,375.73 L637.15,375.66 L637.22,375.59 L637.30,375.53 L637.38,375.47 L637.45,375.41 L637.54,375.36 L637.62,375.31 L637.70,375.27 L637.79,375.23 L637.88,375.19 L637.97,375.15 L638.06,375.11 L638.15,375.08 L638.25,375.05 L638.34,375.02 L638.44,374.99 L638.54,374.96 L638.64,374.94 L638.74,374.92 L638.85,374.89 L638.95,374.87 L639.06,374.85 L639.17,374.83 L639.28,374.81 L639.39,374.79 L639.50,374.78 L639.62,374.76 L639.73,374.74 L639.85,374.73 L639.97,374.72 L640.09,374.70 L640.21,374.69 L640.34,374.68 L640.46,374.66 L640.59,374.65 L640.71,374.64 L640.84,374.63 L640.97,374.62 L641.10,374.61 L641.24,374.60 L641.37,374.59 L641.51,374.58 L641.64,374.57 L641.78,374.57 L641.92,374.56 L642.06,374.55 L642.20,374.54 L642.34,374.54 L642.48,374.53 L642.63,374.52 L642.78,374.52 L642.92,374.51 L643.07,374.50 L643.22,374.50 L643.37,374.49 L643.52,374.49 L643.67,374.48 L643.83,374.48 L643.98,374.47 L644.14,374.47 L644.29,374.46 L644.45,374.46 L644.61,374.45 L644.77,374.45 L644.92,374.45 L645.09,374.44 L645.25,374.44 L645.41,374.43 L645.57,374.43 L645.74,374.43 L645.90,374.42 L646.07,374.42 L646.23,374.42 L646.40,374.41 L646.57,374.41 L646.74,374.41 L646.91,374.40 L647.07,374.40 L647.25,374.40 L647.42,374.40 L647.59,374.39 L647.76,374.39 L647.93,374.39 L648.11,374.39 L648.28,374.38 L648.45,374.38 L648.63,374.38 L648.80,374.38 L648.98,374.37 L649.16,374.37 L649.33,374.37 L649.51,374.37 L649.69,374.37 L649.86,374.36 L650.04,374.36 L650.22,374.36 L650.40,374.36 L650.58,374.36 L650.76,374.35 L650.94,374.35 L651.11,374.35 L651.29,374.35 L651.47,374.35 L651.65,374.35 L651.83,374.35 L652.01,374.34 L652.19,374.34 L652.37,374.34 L652.56,374.34 L652.74,374.34 L652.92,374.34 L653.10,374.34 L653.28,374.33 L653.46,374.33 L653.64,374.33 L653.82,374.33 L654.00,374.33 L654.18,374.33 L654.36,374.33 L654.54,374.33 L654.72,374.33 L654.90,374.32 L655.08,374.32 L655.25,374.32 L655.43,374.32 L655.61,374.32 L655.79,374.32 L655.97,374.32 L656.14,374.32 L656.32,374.32 L656.50,374.32 L656.67,374.31 L656.85,374.31 L657.02,374.31 L657.20,374.31 L657.37,374.31 L657.55,374.31 L657.72,374.31 L657.89,374.31 L658.06,374.31 L658.24,374.31 L658.41,374.31 L658.58,374.31 L658.75,374.31 L658.92,374.30 L659.08,374.30 L659.25,374.30 L659.42,374.30 L659.59,374.30 L659.75,374.30 L659.92,374.30 L660.08,374.30 L660.24,374.30 L660.41,374.30 L660.57,374.30 L660.73,374.30 L660.89,374.30 L661.05,374.30 L661.20,374.30 L661.36,374.30 L661.52,374.30 L661.67,374.30 L661.83,374.30 L661.98,374.29 L662.13,374.29 L662.28,374.29 L662.43,374.29 L662.58,374.29 L662.73,374.29 L662.88,374.29 L663.02,374.29 L663.17,374.29 L663.31,374.29 L663.45,374.29 L663.59,374.29 L663.73,374.29 L663.87,374.29 L664.01,374.29 L664.15,374.30 L664.28,374.30 L664.42,374.30 L664.55,374.30 L664.68,374.30 L664.81,374.30 L664.94,374.30 L665.07,374.31 L665.19,374.31 L665.32,374.31 L665.44,374.32 L665.56,374.32 L665.68,374.33 L665.80,374.33 L665.92,374.34 L666.03,374.34 L666.15,374.35 L666.26,374.36 L666.37,374.37 L666.48,374.38 L666.59,374.40 L666.70,374.41 L666.80,374.43 L666.91,374.44 L667.01,374.46 L667.11,374.48 L667.21,374.51 L667.31,374.53 L667.41,374.56 L667.50,374.59 L667.59,374.62 L667.68,374.66 L667.77,374.70 L667.86,374.74 L667.95,374.79 L668.03,374.84 L668.12,374.90 L668.20,374.95 L668.28,375.02 L668.35,375.08 L668.43,375.15 L668.51,375.23 L668.58,375.31 L668.65,375.39 L668.72,375.48 L668.79,375.58 L668.85,375.67 L668.92,375.78 L668.98,375.88 L669.04,375.99 L669.10,376.11 L669.15,376.23 L669.21,376.35 L669.26,376.48 L669.31,376.61 L669.36,376.74 L669.41,376.87 L669.46,377.01 L669.50,377.15 L669.54,377.29 L669.58,377.42 L669.62,377.56 L669.66,377.70 L669.69,377.83 L669.73,377.97 L669.76,378.10 L669.79,378.22 L669.81,378.34 L669.84,378.46 L669.86,378.57 L669.89,378.68 L669.91,378.78 L669.92,378.87 L669.94,378.95 L669.95,379.02 L669.97,379.09 L669.98,379.15 L669.98,379.19 L669.99,379.23 L670.00,379.25 L670.00,379.27 L670.00,379.28 M509.01,318.85 L509.01,429.6 M635.63,318.85 L635.63,429.6" stroke="#0000ff" stroke-width="3.1"/>
<path d="M79.00,374.23 L79.01,374.23 L79.05,374.23 L79.11,374.23 L79.19,374.23 L79.30,374.23 L79.43,374.23 L79.58,374.23 L79.76,374.23 L79.96,374.23 L80.19,374.23 L80.43,374.23 L80.71,374.23 L81.00,374.23 L81.32,374.23 L81.66,374.23 L82.03,374.23 L82.42,374.23 L82.83,374.23 L83.27,374.23 L83.73,374.23 L84.21,374.23 L84.72,374.23 L85.25,374.23 L85.80,374.23 L86.37,374.23 L86.97,374.23 L87.59,374.23 L88.24,374.23 L88.90,374.23 L89.59,374.23 L90.30,374.23 L91.04,374.23 L91.79,374.23 L92.57,374.23 L93.37,374.23 L94.20,374.23 L95.04,374.23 L95.91,374.23 L96.80,374.23 L97.71,374.23 L98.64,374.23 L99.60,374.23 L100.57,374.23 L101.57,374.23 L102.59,374.23 L103.63,374.23 L104.69,374.23 L105.77,374.23 L106.87,374.23 L107.99,374.23 L109.14,374.23 L110.30,374.23 L111.48,374.23 L112.69,374.23 L113.91,374.23 L115.15,374.23 L116.42,374.23 L117.70,374.23 L119.00,374.23 L120.33,374.23 L121.67,374.23 L123.03,374.11 L124.41,374.11 L125.80,374.11 L127.22,374.11 L128.66,374.11 L130.11,374.11 L131.58,374.11 L133.07,374.11 L134.58,374.11 L136.10,374.11 L137.64,374.11 L139.20,374.11 L140.78,374.11 L142.37,374.11 L143.98,374.11 L145.61,374.11 L147.25,374.11 L148.91,374.11 L150.58,374.11 L152.27,374.11 L153.98,374.11 L155.70,374.11 L157.44,374.11 L159.19,374.11 L160.96,374.11 L162.74,374.11 L164.54,374.11 L166.35,374.11 L168.17,374.11 L170.01,374.11 L171.86,374.11 L173.73,374.11 L175.61,374.11 L177.50,374.11 L179.41,374.11 L181.32,374.11 L183.25,374.11 L185.20,374.11 L187.15,374.11 L189.12,374.11 L191.09,374.11 L193.08,374.11 L195.08,374.11 L197.09,374.11 L199.12,374.11 L201.15,374.11 L203.19,374.11 L205.24,374.11 L207.31,374.11 L209.38,374.11 L211.46,374.11 L213.55,374.11 L215.65,374.11 L217.76,374.11 L219.87,374.11 L222.00,374.11 L224.13,374.11 L226.27,374.11 L228.42,374.11 L230.57,374.11 L232.73,374.11 L234.90,374.11 L237.08,374.11 L239.26,374.11 L241.45,374.11 L243.64,374.11 L245.84,374.11 L248.04,374.11 L250.25,374.11 L252.47,374.11 L254.69,374.11 L256.91,374.11 L259.14,374.11 L261.37,374.11 L263.60,374.11 L265.84,374.11 L268.08,374.11 L270.32,374.11 L272.57,374.11 L274.82,374.11 L277.07,374.11 L279.32,374.11 L281.58,374.11 L283.83,374.11 L286.09,374.11 L288.35,374.11 L290.61,374.11 L292.87,374.11 L295.12,374.11 L297.38,374.11 L299.64,374.11 L301.90,374.11 L304.16,374.11 L306.41,374.11 L308.67,374.11 L310.92,374.11 L313.17,374.11 L315.42,374.11 L317.67,374.11 L319.91,374.11 L322.15,374.11 L324.39,374.11 L326.62,374.11 L328.85,374.11 L331.08,374.11 L333.30,374.11 L335.52,374.11 L337.74,374.11 L339.95,374.11 L342.15,374.11 L344.35,374.11 L346.54,374.11 L348.73,374.11 L350.91,374.11 L353.09,374.11 L355.26,374.11 L357.42,374.11 L359.57,374.11 L361.72,374.11 L363.86,374.11 L365.99,374.11 L368.12,374.11 L370.23,374.11 L372.34,374.11 L374.44,374.11 L376.53,374.11 L378.61,374.11 L380.68,374.11 L382.75,374.11 L384.80,374.11 L386.84,374.11 L388.87,374.11 L390.90,374.11 L392.91,374.11 L394.91,374.12 L396.90,374.12 L398.87,374.12 L400.84,374.12 L402.79,374.12 L404.74,374.12 L406.67,374.12 L408.58,374.12 L410.49,374.12 L412.38,374.12 L414.26,374.12 L416.13,374.12 L417.98,374.12 L419.82,374.12 L421.64,374.12 L423.45,374.12 L425.25,374.12 L427.03,374.12 L428.80,374.12 L430.55,374.12 L432.29,374.12 L434.01,374.12 L435.72,374.12 L437.41,374.12 L439.08,374.13 L440.74,374.13 L442.38,374.13 L444.01,374.13 L445.62,374.13 L447.21,374.13 L448.79,374.13 L450.35,374.13 L451.89,374.13 L453.41,374.13 L454.92,374.13 L456.41,374.13 L457.88,374.14 L459.33,374.14 L460.77,374.14 L462.19,374.14 L463.58,374.14 L464.96,374.14 L466.32,374.14 L467.66,374.15 L468.99,374.15 L470.29,374.15 L471.57,374.15 L472.84,374.15 L474.08,374.15 L475.30,374.16 L476.51,374.16 L477.69,374.16 L478.85,374.16 L480.00,374.17 L481.12,374.17 L482.22,374.17 L483.30,374.18 L484.36,374.18 L485.40,374.18 L486.42,374.19 L487.42,374.19 L488.39,374.20 L489.35,374.20 L490.28,374.21 L491.19,374.21 L492.08,374.22 L492.95,374.23 L493.79,374.23 L494.62,374.24 L495.42,374.25 L496.20,374.26 L496.95,374.27 L497.69,374.28 L498.40,374.30 L499.09,374.31 L499.75,374.33 L500.40,374.34 L501.02,374.36 L501.62,374.39 L502.19,374.41 L502.74,374.44 L503.27,374.47 L503.78,374.51 L504.26,374.55 L504.72,374.60 L505.16,374.66 L505.57,374.73 L505.96,374.81 L506.33,374.91 L506.67,375.03 L506.99,375.18 L507.28,375.36 L507.56,375.60 L507.80,375.91 L508.03,376.33 L508.23,376.91 L508.41,377.75 L508.56,379.01 L508.69,381.04 L508.80,384.57 L508.88,391.44 L508.94,406.70 L508.98,443.12 L508.99,444.48 M509.03,303.73 L509.03,303.73 L509.04,309.33 L509.06,331.32 L509.09,345.10 L509.12,353.59 L509.16,358.99 L509.20,362.58 L509.25,365.05 L509.31,366.82 L509.38,368.13 L509.45,369.11 L509.53,369.88 L509.62,370.48 L509.71,370.96 L509.81,371.35 L509.92,371.68 L510.04,371.95 L510.16,372.17 L510.29,372.36 L510.42,372.53 L510.56,372.67 L510.71,372.80 L510.87,372.90 L511.03,373.00 L511.20,373.08 L511.38,373.16 L511.56,373.22 L511.75,373.28 L511.95,373.34 L512.15,373.39 L512.36,373.43 L512.57,373.47 L512.80,373.51 L513.03,373.54 L513.26,373.57 L513.50,373.60 L513.75,373.62 L514.01,373.65 L514.27,373.67 L514.54,373.69 L514.81,373.71 L515.09,373.73 L515.38,373.74 L515.67,373.76 L515.97,373.77 L516.28,373.78 L516.59,373.80 L516.91,373.81 L517.23,373.82 L517.57,373.83 L517.90,373.84 L518.24,373.85 L518.59,373.86 L518.95,373.86 L519.31,373.87 L519.67,373.88 L520.05,373.89 L520.42,373.89 L520.81,373.90 L521.20,373.91 L521.59,373.91 L521.99,373.92 L522.40,373.92 L522.81,373.93 L523.23,373.93 L523.65,373.94 L524.08,373.94 L524.51,373.94 L524.95,373.95 L525.39,373.95 L525.84,373.95 L526.29,373.96 L526.75,373.96 L527.22,373.96 L527.69,373.97 L528.16,373.97 L528.64,373.97 L529.12,373.97 L529.61,373.98 L530.10,373.98 L530.60,373.98 L531.10,373.98 L531.61,373.99 L532.12,373.99 L532.64,373.99 L533.16,373.99 L533.68,373.99 L534.21,374.00 L534.74,374.00 L535.28,374.00 L535.82,374.00 L536.37,374.00 L536.92,374.00 L537.47,374.01 L538.03,374.01 L538.59,374.01 L539.15,374.01 L539.72,374.01 L540.29,374.01 L540.87,374.01 L541.45,374.01 L542.03,374.01 L542.61,374.02 L543.20,374.02 L543.80,374.02 L544.39,374.02 L544.99,374.02 L545.59,374.02 L546.19,374.02 L546.80,374.02 L547.41,374.02 L548.02,374.02 L548.64,374.02 L549.26,374.02 L549.88,374.03 L550.50,374.03 L551.13,374.03 L551.75,374.03 L552.38,374.03 L553.02,374.03 L553.65,374.03 L554.29,374.03 L554.93,374.03 L555.57,374.03 L556.21,374.03 L556.85,374.03 L557.50,374.03 L558.14,374.03 L558.79,374.03 L559.44,374.03 L560.10,374.03 L560.75,374.03 L561.40,374.03 L562.06,374.03 L562.72,374.03 L563.37,374.03 L564.03,374.03 L564.69,374.03 L565.35,374.03 L566.01,374.03 L566.68,374.03 L567.34,374.04 L568.00,374.04 L568.67,374.04 L569.33,374.04 L569.99,374.04 L570.66,374.04 L571.32,374.04 L571.99,374.04 L572.65,374.04 L573.32,374.04 L573.98,374.04 L574.65,374.04 L575.31,374.04 L575.98,374.04 L576.64,374.04 L577.30,374.04 L577.97,374.03 L578.63,374.03 L579.29,374.03 L579.95,374.03 L580.61,374.03 L581.27,374.03 L581.93,374.03 L582.58,374.03 L583.24,374.03 L583.89,374.03 L584.55,374.03 L585.20,374.03 L585.85,374.03 L586.50,374.03 L587.14,374.03 L587.79,374.03 L588.43,374.03 L589.08,374.03 L589.72,374.03 L590.36,374.03 L590.99,374.03 L591.63,374.03 L592.26,374.03 L592.89,374.03 L593.52,374.03 L594.14,374.03 L594.76,374.03 L595.38,374.02 L596.00,374.02 L596.62,374.02 L597.23,374.02 L597.84,374.02 L598.45,374.02 L599.05,374.02 L599.65,374.02 L600.25,374.02 L600.85,374.02 L601.44,374.02 L602.03,374.02 L602.61,374.01 L603.20,374.01 L603.77,374.01 L604.35,374.01 L604.92,374.01 L605.49,374.01 L606.05,374.01 L606.62,374.01 L607.17,374.01 L607.73,374.00 L608.27,374.00 L608.82,374.00 L609.36,374.00 L609.90,374.00 L610.43,374.00 L610.96,373.99 L611.48,373.99 L612.00,373.99 L612.52,373.99 L613.03,373.99 L613.54,373.98 L614.04,373.98 L614.54,373.98 L615.03,373.98 L615.52,373.97 L616.00,373.97 L616.48,373.97 L616.96,373.97 L617.43,373.96 L617.89,373.96 L618.35,373.96 L618.80,373.95 L619.25,373.95 L619.70,373.95 L620.13,373.94 L620.57,373.94 L620.99,373.94 L621.42,373.93 L621.83,373.93 L622.25,373.92 L622.65,373.92 L623.05,373.91 L623.45,373.91 L623.84,373.90 L624.22,373.89 L624.60,373.89 L624.97,373.88 L625.33,373.87 L625.70,373.86 L626.05,373.86 L626.40,373.85 L626.74,373.84 L627.08,373.83 L627.41,373.82 L627.73,373.81 L628.05,373.80 L628.36,373.78 L628.67,373.77 L628.97,373.76 L629.26,373.74 L629.55,373.73 L629.83,373.71 L630.10,373.69 L630.37,373.67 L630.63,373.65 L630.89,373.62 L631.14,373.60 L631.38,373.57 L631.62,373.54 L631.85,373.51 L632.07,373.47 L632.28,373.43 L632.49,373.39 L632.70,373.34 L632.89,373.28 L633.08,373.22 L633.27,373.16 L633.44,373.08 L633.61,373.00 L633.77,372.90 L633.93,372.80 L634.08,372.67 L634.22,372.53 L634.36,372.36 L634.48,372.17 L634.61,371.95 L634.72,371.68 L634.83,371.35 L634.93,370.96 L635.02,370.48 L635.11,369.88 L635.19,369.11 L635.26,368.13 L635.33,366.82 L635.39,365.05 L635.44,362.58 L635.49,358.99 L635.52,353.59 L635.56,345.10 L635.58,331.32 L635.60,309.33 L635.61,303.73 L635.61,303.73 M635.65,444.48 L635.65,444.48 L635.66,444.48 L635.66,444.48 L635.67,436.65 L635.68,424.44 L635.69,414.74 L635.70,407.21 L635.71,401.37 L635.73,396.83 L635.75,393.27 L635.77,390.44 L635.79,388.16 L635.81,386.31 L635.84,384.79 L635.86,383.54 L635.89,382.48 L635.93,381.59 L635.96,380.83 L635.99,380.18 L636.03,379.62 L636.07,379.13 L636.11,378.70 L636.15,378.33 L636.20,377.99 L636.24,377.70 L636.29,377.44 L636.34,377.20 L636.39,376.99 L636.44,376.80 L636.50,376.63 L636.56,376.47 L636.61,376.33 L636.67,376.20 L636.74,376.08 L636.80,375.97 L636.87,375.87 L636.93,375.78 L637.00,375.69 L637.07,375.61 L637.15,375.54 L637.22,375.47 L637.30,375.41 L637.38,375.35 L637.45,375.29 L637.54,375.24 L637.62,375.19 L637.70,375.15 L637.79,375.11 L637.88,375.07 L637.97,375.03 L638.06,374.99 L638.15,374.96 L638.25,374.93 L638.34,374.90 L638.44,374.87 L638.54,374.84 L638.64,374.82 L638.74,374.80 L638.85,374.77 L638.95,374.75 L639.06,374.73 L639.17,374.71 L639.28,374.69 L639.39,374.67 L639.50,374.66 L639.62,374.64 L639.73,374.62 L639.85,374.61 L639.97,374.60 L640.09,374.58 L640.21,374.57 L640.34,374.56 L640.46,374.54 L640.59,374.53 L640.71,374.52 L640.84,374.51 L640.97,374.50 L641.10,374.49 L641.24,374.48 L641.37,374.47 L641.51,374.46 L641.64,374.45 L641.78,374.45 L641.92,374.44 L642.06,374.43 L642.20,374.42 L642.34,374.42 L642.48,374.41 L642.63,374.40 L642.78,374.40 L642.92,374.39 L643.07,374.38 L643.22,374.38 L643.37,374.37 L643.52,374.37 L643.67,374.36 L643.83,374.36 L643.98,374.35 L644.14,374.35 L644.29,374.34 L644.45,374.34 L644.61,374.33 L644.77,374.33 L644.92,374.33 L645.09,374.32 L645.25,374.32 L645.41,374.31 L645.57,374.31 L645.74,374.31 L645.90,374.30 L646.07,374.30 L646.23,374.30 L646.40,374.29 L646.57,374.29 L646.74,374.29 L646.91,374.28 L647.07,374.28 L647.25,374.28 L647.42,374.28 L647.59,374.27 L647.76,374.27 L647.93,374.27 L648.11,374.27 L648.28,374.26 L648.45,374.26 L648.63,374.26 L648.80,374.26 L648.98,374.25 L649.16,374.25 L649.33,374.25 L649.51,374.25 L649.69,374.25 L649.86,374.24 L650.04,374.24 L650.22,374.24 L650.40,374.24 L650.58,374.24 L650.76,374.23 L650.94,374.23 L651.11,374.23 L651.29,374.23 L651.47,374.23 L651.65,374.23 L651.83,374.23 L652.01,374.22 L652.19,374.22 L652.37,374.22 L652.56,374.22 L652.74,374.22 L652.92,374.22 L653.10,374.22 L653.28,374.21 L653.46,374.21 L653.64,374.21 L653.82,374.21 L654.00,374.21 L654.18,374.21 L654.36,374.21 L654.54,374.21 L654.72,374.21 L654.90,374.20 L655.08,374.20 L655.25,374.20 L655.43,374.20 L655.61,374.20 L655.79,374.20 L655.97,374.20 L656.14,374.20 L656.32,374.20 L656.50,374.20 L656.67,374.19 L656.85,374.19 L657.02,374.19 L657.20,374.19 L657.37,374.19 L657.55,374.19 L657.72,374.19 L657.89,374.19 L658.06,374.19 L658.24,374.19 L658.41,374.19 L658.58,374.19 L658.75,374.19 L658.92,374.18 L659.08,374.18 L659.25,374.18 L659.42,374.18 L659.59,374.18 L659.75,374.18 L659.92,374.18 L660.08,374.18 L660.24,374.18 L660.41,374.18 L660.57,374.18 L660.73,374.18 L660.89,374.18 L661.05,374.18 L661.20,374.18 L661.36,374.18 L661.52,374.18 L661.67,374.18 L661.83,374.18 L661.98,374.17 L662.13,374.17 L662.28,374.17 L662.43,374.17 L662.58,374.17 L662.73,374.17 L662.88,374.17 L663.02,374.17 L663.17,374.17 L663.31,374.17 L663.45,374.17 L663.59,374.17 L663.73,374.17 L663.87,374.17 L664.01,374.17 L664.15,374.18 L664.28,374.18 L664.42,374.18 L664.55,374.18 L664.68,374.18 L664.81,374.18 L664.94,374.18 L665.07,374.19 L665.19,374.19 L665.32,374.19 L665.44,374.20 L665.56,374.20 L665.68,374.21 L665.80,374.21 L665.92,374.22 L666.03,374.22 L666.15,374.23 L666.26,374.24 L666.37,374.25 L666.48,374.26 L666.59,374.28 L666.70,374.29 L666.80,374.31 L666.91,374.32 L667.01,374.34 L667.11,374.36 L667.21,374.39 L667.31,374.41 L667.41,374.44 L667.50,374.47 L667.59,374.50 L667.68,374.54 L667.77,374.58 L667.86,374.62 L667.95,374.67 L668.03,374.72 L668.12,374.78 L668.20,374.83 L668.28,374.90 L668.35,374.96 L668.43,375.03 L668.51,375.11 L668.58,375.19 L668.65,375.27 L668.72,375.36 L668.79,375.46 L668.85,375.55 L668.92,375.66 L668.98,375.76 L669.04,375.87 L669.10,375.99 L669.15,376.11 L669.21,376.23 L669.26,376.36 L669.31,376.49 L669.36,376.62 L669.41,376.75 L669.46,376.89 L669.50,377.03 L669.54,377.17 L669.58,377.30 L669.62,377.44 L669.66,377.58 L669.69,377.71 L669.73,377.85 L669.76,377.98 L669.79,378.10 L669.81,378.22 L669.84,378.34 L669.86,378.45 L669.89,378.56 L669.91,378.66 L669.92,378.75 L669.94,378.83 L669.95,378.90 L669.97,378.97 L669.98,379.03 L669.98,379.07 L669.99,379.11 L670.00,379.13 L670.00,379.15 L670.00,379.16 M509.01,318.85 L509.01,429.6 M635.63,318.85 L635.63,429.6" stroke="#ffa500" stroke-width="3.1"/>
<path d="M79.00,374.23 L79.01,374.23 L79.05,374.23 L79.11,374.23 L79.19,374.23 L79.30,374.23 L79.43,374.23 L79.58,374.23 L79.76,374.23 L79.96,374.23 L80.19,374.23 L80.43,374.23 L80.71,374.23 L81.00,374.23 L81.32,374.23 L81.66,374.23 L82.03,374.23 L82.42,374.23 L82.83,374.23 L83.27,374.23 L83.73,374.23 L84.21,374.23 L84.72,374.23 L85.25,374.23 L85.80,374.23 L86.37,374.23 L86.97,374.23 L87.59,374.23 L88.24,374.23 L88.90,374.23 L89.59,374.23 L90.30,374.23 L91.04,374.23 L91.79,374.23 L92.57,374.23 L93.37,374.23 L94.20,374.23 L95.04,374.23 L95.91,374.23 L96.80,374.23 L97.71,374.23 L98.64,374.23 L99.60,374.23 L100.57,374.23 L101.57,374.23 L102.59,374.23 L103.63,374.23 L104.69,374.23 L105.77,374.23 L106.87,374.23 L107.99,374.23 L109.14,374.23 L110.30,374.23 L111.48,374.23 L112.69,374.23 L113.91,374.23 L115.15,374.23 L116.42,374.23 L117.70,374.23 L119.00,374.23 L120.33,374.23 L121.67,374.23 L123.03,374.23 L124.41,374.23 L125.80,374.23 L127.22,374.23 L128.66,374.23 L130.11,374.23 L131.58,374.23 L133.07,374.23 L134.58,374.23 L136.10,374.23 L137.64,374.23 L139.20,374.23 L140.78,374.23 L142.37,374.23 L143.98,374.23 L145.61,374.23 L147.25,374.23 L148.91,374.23 L150.58,374.23 L152.27,374.23 L153.98,374.23 L155.70,374.23 L157.44,374.23 L159.19,374.23 L160.96,374.23 L162.74,374.23 L164.54,374.23 L166.35,374.23 L168.17,374.23 L170.01,374.23 L171.86,374.23 L173.73,374.23 L175.61,374.23 L177.50,374.23 L179.41,374.23 L181.32,374.23 L183.25,374.23 L185.20,374.23 L187.15,374.23 L189.12,374.23 L191.09,374.23 L193.08,374.23 L195.08,374.23 L197.09,374.23 L199.12,374.23 L201.15,374.23 L203.19,374.23 L205.24,374.23 L207.31,374.23 L209.38,374.23 L211.46,374.23 L213.55,374.23 L215.65,374.23 L217.76,374.23 L219.87,374.23 L222.00,374.23 L224.13,374.23 L226.27,374.23 L228.42,374.23 L230.57,374.23 L232.73,374.23 L234.90,374.23 L237.08,374.23 L239.26,374.23 L241.45,374.23 L243.64,374.23 L245.84,374.23 L248.04,374.23 L250.25,374.23 L252.47,374.23 L254.69,374.23 L256.91,374.23 L259.14,374.23 L261.37,374.23 L263.60,374.23 L265.84,374.23 L268.08,374.23 L270.32,374.23 L272.57,374.23 L274.82,374.23 L277.07,374.23 L279.32,374.23 L281.58,374.23 L283.83,374.23 L286.09,374.23 L288.35,374.23 L290.61,374.23 L292.87,374.23 L295.12,374.23 L297.38,374.23 L299.64,374.23 L301.90,374.23 L304.16,374.23 L306.41,374.23 L308.67,374.23 L310.92,374.23 L313.17,374.23 L315.42,374.23 L317.67,374.23 L319.91,374.23 L322.15,374.23 L324.39,374.23 L326.62,374.23 L328.85,374.23 L331.08,374.23 L333.30,374.23 L335.52,374.23 L337.74,374.23 L339.95,374.23 L342.15,374.23 L344.35,374.23 L346.54,374.23 L348.73,374.23 L350.91,374.23 L353.09,374.23 L355.26,374.23 L357.42,374.23 L359.57,374.23 L361.72,374.23 L363.86,374.23 L365.99,374.23 L368.12,374.23 L370.23,374.23 L372.34,374.23 L374.44,374.23 L376.53,374.23 L378.61,374.23 L380.68,374.23 L382.75,374.23 L384.80,374.23 L386.84,374.23 L388.87,374.23 L390.90,374.23 L392.91,374.23 L394.91,374.24 L396.90,374.24 L398.87,374.24 L400.84,374.24 L402.79,374.24 L404.74,374.24 L406.67,374.24 L408.58,374.24 L410.49,374.24 L412.38,374.24 L414.26,374.24 L416.13,374.24 L417.98,374.24 L419.82,374.24 L421.64,374.24 L423.45,374.24 L425.25,374.24 L427.03,374.24 L428.80,374.24 L430.55,374.24 L432.29,374.24 L434.01,374.24 L435.72,374.24 L437.41,374.24 L439.08,374.25 L440.74,374.25 L442.38,374.25 L444.01,374.25 L445.62,374.25 L447.21,374.25 L448.79,374.25 L450.35,374.25 L451.89,374.25 L453.41,374.25 L454.92,374.25 L456.41,374.25 L457.88,374.26 L459.33,374.26 L460.77,374.26 L462.19,374.26 L463.58,374.26 L464.96,374.26 L466.32,374.26 L467.66,374.27 L468.99,374.27 L470.29,374.27 L471.57,374.27 L472.84,374.27 L474.08,374.27 L475.30,374.28 L476.51,374.28 L477.69,374.28 L478.85,374.28 L480.00,374.29 L481.12,374.29 L482.22,374.29 L483.30,374.30 L484.36,374.30 L485.40,374.30 L486.42,374.31 L487.42,374.31 L488.39,374.32 L489.35,374.32 L490.28,374.33 L491.19,374.33 L492.08,374.34 L492.95,374.35 L493.79,374.35 L494.62,374.36 L495.42,374.37 L496.20,374.38 L496.95,374.39 L497.69,374.40 L498.40,374.42 L499.09,374.43 L499.75,374.45 L500.40,374.46 L501.02,374.48 L501.62,374.51 L502.19,374.53 L502.74,374.56 L503.27,374.59 L503.78,374.63 L504.26,374.67 L504.72,374.72 L505.16,374.78 L505.57,374.85 L505.96,374.93 L506.33,375.03 L506.67,375.15 L506.99,375.30 L507.28,375.48 L507.56,375.72 L507.80,376.03 L508.03,376.45 L508.23,377.03 L508.41,377.87 L508.56,379.13 L508.69,381.16 L508.80,384.69 L508.88,391.56 L508.94,406.82 L508.98,443.24 L508.99,444.60 M509.03,303.85 L509.03,303.85 L509.04,309.45 L509.06,331.44 L509.09,345.22 L509.12,353.71 L509.16,359.11 L509.20,362.70 L509.25,365.17 L509.31,366.94 L509.38,368.25 L509.45,369.23 L509.53,370.00 L509.62,370.60 L509.71,371.08 L509.81,371.47 L509.92,371.80 L510.04,372.07 L510.16,372.29 L510.29,372.48 L510.42,372.65 L510.56,372.79 L510.71,372.92 L510.87,373.02 L511.03,373.12 L511.20,373.20 L511.38,373.28 L511.56,373.34 L511.75,373.40 L511.95,373.46 L512.15,373.51 L512.36,373.55 L512.57,373.59 L512.80,373.63 L513.03,373.66 L513.26,373.69 L513.50,373.72 L513.75,373.74 L514.01,373.77 L514.27,373.79 L514.54,373.81 L514.81,373.83 L515.09,373.85 L515.38,373.86 L515.67,373.88 L515.97,373.89 L516.28,373.90 L516.59,373.92 L516.91,373.93 L517.23,373.94 L517.57,373.95 L517.90,373.96 L518.24,373.97 L518.59,373.98 L518.95,373.98 L519.31,373.99 L519.67,374.00 L520.05,374.01 L520.42,374.01 L520.81,374.02 L521.20,374.03 L521.59,374.03 L521.99,374.04 L522.40,374.04 L522.81,374.05 L523.23,374.05 L523.65,374.06 L524.08,374.06 L524.51,374.06 L524.95,374.07 L525.39,374.07 L525.84,374.07 L526.29,374.08 L526.75,374.08 L527.22,374.08 L527.69,374.09 L528.16,374.09 L528.64,374.09 L529.12,374.09 L529.61,374.10 L530.10,374.10 L530.60,374.10 L531.10,374.10 L531.61,374.11 L532.12,374.11 L532.64,374.11 L533.16,374.11 L533.68,374.11 L534.21,374.12 L534.74,374.12 L535.28,374.12 L535.82,374.12 L536.37,374.12 L536.92,374.12 L537.47,374.13 L538.03,374.13 L538.59,374.13 L539.15,374.13 L539.72,374.13 L540.29,374.13 L540.87,374.13 L541.45,374.13 L542.03,374.13 L542.61,374.14 L543.20,374.14 L543.80,374.14 L544.39,374.14 L544.99,374.14 L545.59,374.14 L546.19,374.14 L546.80,374.14 L547.41,374.14 L548.02,374.14 L548.64,374.14 L549.26,374.14 L549.88,374.15 L550.50,374.15 L551.13,374.15 L551.75,374.15 L552.38,374.15 L553.02,374.15 L553.65,374.15 L554.29,374.15 L554.93,374.15 L555.57,374.15 L556.21,374.15 L556.85,374.15 L557.50,374.15 L558.14,374.15 L558.79,374.15 L559.44,374.15 L560.10,374.15 L560.75,374.15 L561.40,374.15 L562.06,374.15 L562.72,374.15 L563.37,374.15 L564.03,374.15 L564.69,374.15 L565.35,374.15 L566.01,374.15 L566.68,374.15 L567.34,374.16 L568.00,374.16 L568.67,374.16 L569.33,374.16 L569.99,374.16 L570.66,374.16 L571.32,374.16 L571.99,374.16 L572.65,374.16 L573.32,374.16 L573.98,374.16 L574.65,374.16 L575.31,374.16 L575.98,374.16 L576.64,374.16 L577.30,374.16 L577.97,374.15 L578.63,374.15 L579.29,374.15 L579.95,374.15 L580.61,374.15 L581.27,374.15 L581.93,374.15 L582.58,374.15 L583.24,374.15 L583.89,374.15 L584.55,374.15 L585.20,374.15 L585.85,374.15 L586.50,374.15 L587.14,374.15 L587.79,374.15 L588.43,374.15 L589.08,374.15 L589.72,374.15 L590.36,374.15 L590.99,374.15 L591.63,374.15 L592.26,374.15 L592.89,374.15 L593.52,374.15 L594.14,374.15 L594.76,374.15 L595.38,374.14 L596.00,374.14 L596.62,374.14 L597.23,374.14 L597.84,374.14 L598.45,374.14 L599.05,374.14 L599.65,374.14 L600.25,374.14 L600.85,374.14 L601.44,374.14 L602.03,374.14 L602.61,374.13 L603.20,374.13 L603.77,374.13 L604.35,374.13 L604.92,374.13 L605.49,374.13 L606.05,374.13 L606.62,374.13 L607.17,374.13 L607.73,374.12 L608.27,374.12 L608.82,374.12 L609.36,374.12 L609.90,374.12 L610.43,374.12 L610.96,374.11 L611.48,374.11 L612.00,374.11 L612.52,374.11 L613.03,374.11 L613.54,374.10 L614.04,374.10 L614.54,374.10 L615.03,374.10 L615.52,374.09 L616.00,374.09 L616.48,374.09 L616.96,374.09 L617.43,374.08 L617.89,374.08 L618.35,374.08 L618.80,374.07 L619.25,374.07 L619.70,374.07 L620.13,374.06 L620.57,374.06 L620.99,374.06 L621.42,374.05 L621.83,374.05 L622.25,374.04 L622.65,374.04 L623.05,374.03 L623.45,374.03 L623.84,374.02 L624.22,374.01 L624.60,374.01 L624.97,374.00 L625.33,373.99 L625.70,373.98 L626.05,373.98 L626.40,373.97 L626.74,373.96 L627.08,373.95 L627.41,373.94 L627.73,373.93 L628.05,373.92 L628.36,373.90 L628.67,373.89 L628.97,373.88 L629.26,373.86 L629.55,373.85 L629.83,373.83 L630.10,373.81 L630.37,373.79 L630.63,373.77 L630.89,373.74 L631.14,373.72 L631.38,373.69 L631.62,373.66 L631.85,373.63 L632.07,373.59 L632.28,373.55 L632.49,373.51 L632.70,373.46 L632.89,373.40 L633.08,373.34 L633.27,373.28 L633.44,373.20 L633.61,373.12 L633.77,373.02 L633.93,372.92 L634.08,372.79 L634.22,372.65 L634.36,372.48 L634.48,372.29 L634.61,372.07 L634.72,371.80 L634.83,371.47 L634.93,371.08 L635.02,370.60 L635.11,370.00 L635.19,369.23 L635.26,368.25 L635.33,366.94 L635.39,365.17 L635.44,362.70 L635.49,359.11 L635.52,353.71 L635.56,345.22 L635.58,331.44 L635.60,309.45 L635.61,303.85 L635.61,303.85 M635.65,444.60 L635.65,444.60 L635.66,444.60 L635.66,444.60 L635.67,436.77 L635.68,424.56 L635.69,414.86 L635.70,407.33 L635.71,401.49 L635.73,396.95 L635.75,393.39 L635.77,390.56 L635.79,388.28 L635.81,386.43 L635.84,384.91 L635.86,383.66 L635.89,382.60 L635.93,381.71 L635.96,380.95 L635.99,380.30 L636.03,379.74 L636.07,379.25 L636.11,378.82 L636.15,378.45 L636.20,378.11 L636.24,377.82 L636.29,377.56 L636.34,377.32 L636.39,377.11 L636.44,376.92 L636.50,376.75 L636.56,376.59 L636.61,376.45 L636.67,376.32 L636.74,376.20 L636.80,376.09 L636.87,375.99 L636.93,375.90 L637.00,375.81 L637.07,375.73 L637.15,375.66 L637.22,375.59 L637.30,375.53 L637.38,375.47 L637.45,375.41 L637.54,375.36 L637.62,375.31 L637.70,375.27 L637.79,375.23 L637.88,375.19 L637.97,375.15 L638.06,375.11 L638.15,375.08 L638.25,375.05 L638.34,375.02 L638.44,374.99 L638.54,374.96 L638.64,374.94 L638.74,374.92 L638.85,374.89 L638.95,374.87 L639.06,374.85 L639.17,374.83 L639.28,374.81 L639.39,374.79 L639.50,374.78 L639.62,374.76 L639.73,374.74 L639.85,374.73 L639.97,374.72 L640.09,374.70 L640.21,374.69 L640.34,374.68 L640.46,374.66 L640.59,374.65 L640.71,374.64 L640.84,374.63 L640.97,374.62 L641.10,374.61 L641.24,374.60 L641.37,374.59 L641.51,374.58 L641.64,374.57 L641.78,374.57 L641.92,374.56 L642.06,374.55 L642.20,374.54 L642.34,374.54 L642.48,374.53 L642.63,374.52 L642.78,374.52 L642.92,374.51 L643.07,374.50 L643.22,374.50 L643.37,374.49 L643.52,374.49 L643.67,374.48 L643.83,374.48 L643.98,374.47 L644.14,374.47 L644.29,374.46 L644.45,374.46 L644.61,374.45 L644.77,374.45 L644.92,374.45 L645.09,374.44 L645.25,374.44 L645.41,374.43 L645.57,374.43 L645.74,374.43 L645.90,374.42 L646.07,374.42 L646.23,374.42 L646.40,374.41 L646.57,374.41 L646.74,374.41 L646.91,374.40 L647.07,374.40 L647.25,374.40 L647.42,374.40 L647.59,374.39 L647.76,374.39 L647.93,374.39 L648.11,374.39 L648.28,374.38 L648.45,374.38 L648.63,374.38 L648.80,374.38 L648.98,374.37 L649.16,374.37 L649.33,374.37 L649.51,374.37 L649.69,374.37 L649.86,374.36 L650.04,374.36 L650.22,374.36 L650.40,374.36 L650.58,374.36 L650.76,374.35 L650.94,374.35 L651.11,374.35 L651.29,374.35 L651.47,374.35 L651.65,374.35 L651.83,374.35 L652.01,374.34 L652.19,374.34 L652.37,374.34 L652.56,374.34 L652.74,374.34 L652.92,374.34 L653.10,374.34 L653.28,374.33 L653.46,374.33 L653.64,374.33 L653.82,374.33 L654.00,374.33 L654.18,374.33 L654.36,374.33 L654.54,374.33 L654.72,374.33 L654.90,374.32 L655.08,374.32 L655.25,374.32 L655.43,374.32 L655.61,374.32 L655.79,374.32 L655.97,374.32 L656.14,374.32 L656.32,374.32 L656.50,374.32 L656.67,374.31 L656.85,374.31 L657.02,374.31 L657.20,374.31 L657.37,374.31 L657.55,374.31 L657.72,374.31 L657.89,374.31 L658.06,374.31 L658.24,374.31 L658.41,374.31 L658.58,374.31 L658.75,374.31 L658.92,374.30 L659.08,374.30 L659.25,374.30 L659.42,374.30 L659.59,374.30 L659.75,374.30 L659.92,374.30 L660.08,374.30 L660.24,374.30 L660.41,374.30 L660.57,374.30 L660.73,374.30 L660.89,374.30 L661.05,374.30 L661.20,374.30 L661.36,374.30 L661.52,374.30 L661.67,374.30 L661.83,374.30 L661.98,374.29 L662.13,374.29 L662.28,374.29 L662.43,374.29 L662.58,374.29 L662.73,374.29 L662.88,374.29 L663.02,374.29 L663.17,374.29 L663.31,374.29 L663.45,374.29 L663.59,374.29 L663.73,374.29 L663.87,374.29 L664.01,374.29 L664.15,374.30 L664.28,374.30 L664.42,374.30 L664.55,374.30 L664.68,374.30 L664.81,374.30 L664.94,374.30 L665.07,374.31 L665.19,374.31 L665.32,374.31 L665.44,374.32 L665.56,374.32 L665.68,374.33 L665.80,374.33 L665.92,374.34 L666.03,374.34 L666.15,374.35 L666.26,374.36 L666.37,374.37 L666.48,374.38 L666.59,374.40 L666.70,374.41 L666.80,374.43 L666.91,374.44 L667.01,374.46 L667.11,374.48 L667.21,374.51 L667.31,374.53 L667.41,374.56 L667.50,374.59 L667.59,374.62 L667.68,374.66 L667.77,374.70 L667.86,374.74 L667.95,374.79 L668.03,374.84 L668.12,374.90 L668.20,374.95 L668.28,375.02 L668.35,375.08 L668.43,375.15 L668.51,375.23 L668.58,375.31 L668.65,375.39 L668.72,375.48 L668.79,375.58 L668.85,375.67 L668.92,375.78 L668.98,375.88 L669.04,375.99 L669.10,376.11 L669.15,376.23 L669.21,376.35 L669.26,376.48 L669.31,376.61 L669.36,376.74 L669.41,376.87 L669.46,377.01 L669.50,377.15 L669.54,377.29 L669.58,377.42 L669.62,377.56 L669.66,377.70 L669.69,377.83 L669.73,377.97 L669.76,378.10 L669.79,378.22 L669.81,378.34 L669.84,378.46 L669.86,378.57 L669.89,378.68 L669.91,378.78 L669.92,378.87 L669.94,378.95 L669.95,379.02 L669.97,379.09 L669.98,379.15 L669.98,379.19 L669.99,379.23 L670.00,379.25 L670.00,379.27 L670.00,379.28 M509.01,318.85 L509.01,429.6 M635.63,318.85 L635.63,429.6" stroke="#008000" stroke-width="3.1"/>
</g>
<rect x="79.0" y="21.6" width="591.0" height="403.0" fill="none" stroke="#000" stroke-width="1.55"/>
<path d="M79.0,323.85 L670.0,323.85" stroke="#000" stroke-width="1.55"/>
<path d="M95.3,195.1 L132.1,195.1" stroke="#000" stroke-width="1.8" stroke-dasharray="6.0 2.15"/>
<path d="M93.8,220.6 L133.8,220.6" stroke="#ff0000" stroke-width="3.25"/>
<path d="M93.8,246.3 L133.8,246.3" stroke="#0000ff" stroke-width="3.25"/>
<path d="M93.8,271.9 L133.8,271.9" stroke="#ffa500" stroke-width="3.25"/>
<path d="M93.8,297.45 L133.8,297.45" stroke="#008000" stroke-width="3.25"/>
<g font-family="Liberation Serif, serif" font-weight="bold" fill="#000" font-size="100" opacity="0.999">
<text transform="matrix(0.2072,0,0,0.2012,185.09,15.98)">LO</text>
<text transform="matrix(0.2255,0,0,0.2012,223.66,15.98)">ERBL</text>
<text transform="matrix(0.2323,0,0,0.2069,292.09,15.98)">evolution</text>
<text transform="matrix(0.2184,0,0,0.2040,392.39,15.98)">from</text>
<text transform="matrix(0.2281,0,0,0.1909,448.33,15.98)" font-style="italic" style="stroke:#000;stroke-width:0.2px">μ</text>
<text transform="matrix(0.1738,0,0,0.1411,460.10,18.98)">0</text>
<path d="M475.8,8.4 L492.2,8.4 M475.8,13.1 L492.2,13.1" stroke="#000" stroke-width="1.5"/>
<text transform="matrix(0.2486,0,0,0.1967,498.61,15.98)">1</text>
<text transform="matrix(0.2340,0,0,0.1997,518.33,15.98)">GeV</text>
<text transform="matrix(0.2193,0,0,0.1996,148.09,202.28)" font-style="italic" style="stroke:#000;stroke-width:0.2px">μ</text>
<path d="M166.4,195.5 L180.6,195.5 M166.4,199.8 L180.6,199.8" stroke="#000" stroke-width="1.45"/>
<text transform="matrix(0.2135,0,0,0.1830,186.79,202.28)">1</text>
<text transform="matrix(0.2112,0,0,0.1891,204.34,202.28)">GeV</text>
<text transform="matrix(0.2193,0,0,0.1996,148.09,227.78)" font-style="italic" style="stroke:#000;stroke-width:0.2px">μ</text>
<path d="M166.4,221.0 L180.6,221.0 M166.4,225.3 L180.6,225.3" stroke="#000" stroke-width="1.45"/>
<text transform="matrix(0.2262,0,0,0.1830,186.70,227.78)">2</text>
<text transform="matrix(0.2112,0,0,0.1891,204.34,227.78)">GeV</text>
<text transform="matrix(0.2193,0,0,0.1996,148.09,253.48)" font-style="italic" style="stroke:#000;stroke-width:0.2px">μ</text>
<path d="M166.4,246.7 L180.6,246.7 M166.4,251.0 L180.6,251.0" stroke="#000" stroke-width="1.45"/>
<text transform="matrix(0.2047,0,0,0.1830,187.18,253.48)">5</text>
<text transform="matrix(0.2112,0,0,0.1891,204.34,253.48)">GeV</text>
<text transform="matrix(0.2193,0,0,0.1996,148.09,279.08)" font-style="italic" style="stroke:#000;stroke-width:0.2px">μ</text>
<path d="M166.4,272.3 L180.6,272.3 M166.4,276.6 L180.6,276.6" stroke="#000" stroke-width="1.45"/>
<text transform="matrix(0.2023,0,0,0.1830,186.88,279.08)">10</text>
<text transform="matrix(0.2112,0,0,0.1891,213.74,279.08)">GeV</text>
<text transform="matrix(0.2193,0,0,0.1996,148.09,304.63)" font-style="italic" style="stroke:#000;stroke-width:0.2px">μ</text>
<path d="M166.4,297.85 L180.6,297.85 M166.4,302.15 L180.6,302.15" stroke="#000" stroke-width="1.45"/>
<text transform="matrix(0.1971,0,0,0.1830,186.92,304.63)">100</text>
<text transform="matrix(0.2112,0,0,0.1891,223.14,304.63)">GeV</text>
<text transform="matrix(0.2425,0,0,0.1922,39.76,54.27)">1.0</text>
<text transform="matrix(0.2400,0,0,0.1922,39.94,117.24)">0.5</text>
<text transform="matrix(0.2410,0,0,0.1922,39.94,180.21)">0.0</text>
<path d="M23.9,237.89 L38.7,237.89" stroke="#000" stroke-width="1.5"/>
<text transform="matrix(0.2400,0,0,0.1922,39.94,243.17)">0.5</text>
<path d="M23.9,300.86 L38.7,300.86" stroke="#000" stroke-width="1.5"/>
<text transform="matrix(0.2425,0,0,0.1922,39.76,306.14)">1.0</text>
<text transform="matrix(0.2346,0,0,0.1922,29.02,331.33)">1.01</text>
<text transform="matrix(0.2331,0,0,0.1922,29.03,381.71)">1.00</text>
<text transform="matrix(0.2328,0,0,0.1922,28.97,432.08)">0.99</text>
<text transform="matrix(0.2409,0,0,0.1997,56.47,448.08)">10</text>
<path d="M81.70,436.8 L90.90,436.8" stroke="#000" stroke-width="1.2"/>
<text transform="matrix(0.1643,0,0,0.1467,92.34,440.68)">2</text>
<text transform="matrix(0.2409,0,0,0.1997,351.97,448.08)">10</text>
<path d="M377.20,436.8 L386.40,436.8" stroke="#000" stroke-width="1.2"/>
<text transform="matrix(0.1568,0,0,0.1391,388.15,440.68)">1</text>
<text transform="matrix(0.2455,0,0,0.1997,653.74,448.08)">10</text>
<text transform="matrix(0.1833,0,0,0.1426,678.27,440.88)">0</text>
<g transform="translate(367.2,472.6)" fill="none" stroke="#000" stroke-linecap="round" stroke-linejoin="round"><path d="M7.9,-10.0 L6.3,-0.6" stroke-width="3.3" stroke-linecap="butt"/><path d="M7.4,-9.7 C5.2,-10.7 1.9,-10.4 0.9,-7.5" stroke-width="1.5"/><path d="M8.8,-8.2 C9.8,-10.4 12.0,-10.9 13.0,-9.2" stroke-width="1.5"/><circle cx="12.4" cy="-8.2" r="1.4" fill="#000" stroke="none"/><circle cx="1.7" cy="-2.0" r="1.45" fill="#000" stroke="none"/><path d="M1.2,-1.5 C1.6,0.7 5.0,0.9 6.2,-1.0" stroke-width="1.5"/><path d="M7.0,-0.9 C8.4,1.3 12.0,0.3 13.4,-3.3" stroke-width="1.4"/></g>
<g transform="translate(14.1,213.5) rotate(-90) scale(0.78,0.75)" fill="none" stroke="#000" stroke-linecap="round" stroke-linejoin="round"><path d="M7.9,-10.0 L6.3,-0.6" stroke-width="3.3" stroke-linecap="butt"/><path d="M7.4,-9.7 C5.2,-10.7 1.9,-10.4 0.9,-7.5" stroke-width="1.5"/><path d="M8.8,-8.2 C9.8,-10.4 12.0,-10.9 13.0,-9.2" stroke-width="1.5"/><circle cx="12.4" cy="-8.2" r="1.4" fill="#000" stroke="none"/><circle cx="1.7" cy="-2.0" r="1.45" fill="#000" stroke="none"/><path d="M1.2,-1.5 C1.6,0.7 5.0,0.9 6.2,-1.0" stroke-width="1.5"/><path d="M7.0,-0.9 C8.4,1.3 12.0,0.3 13.4,-3.3" stroke-width="1.4"/></g>
<text style="stroke:none" transform="matrix(0,-0.1954,0.1603,0,14.10,201.60)" font-style="italic">F</text>
<text style="stroke:none" transform="matrix(0,-0.1226,0.1258,0,16.10,188.48)">4</text>
<path d="M0.9,174.9 Q9.7,186.4 18.5,174.9 Q9.7,182.2 0.9,174.9 Z" fill="#000" stroke="#000" stroke-width="0.5" stroke-linejoin="round"/>
<g transform="translate(14.1,172.9) rotate(-90) scale(0.78,0.75)" fill="none" stroke="#000" stroke-linecap="round" stroke-linejoin="round"><path d="M7.9,-10.0 L6.3,-0.6" stroke-width="3.3" stroke-linecap="butt"/><path d="M7.4,-9.7 C5.2,-10.7 1.9,-10.4 0.9,-7.5" stroke-width="1.5"/><path d="M8.8,-8.2 C9.8,-10.4 12.0,-10.9 13.0,-9.2" stroke-width="1.5"/><circle cx="12.4" cy="-8.2" r="1.4" fill="#000" stroke="none"/><circle cx="1.7" cy="-2.0" r="1.45" fill="#000" stroke="none"/><path d="M1.2,-1.5 C1.6,0.7 5.0,0.9 6.2,-1.0" stroke-width="1.5"/><path d="M7.0,-0.9 C8.4,1.3 12.0,0.3 13.4,-3.3" stroke-width="1.4"/></g>
<text style="stroke:none" transform="matrix(0,-0.1692,0.1692,0,14.10,158.55)">,</text>
<text style="stroke:none" transform="matrix(0,-0.1649,0.1761,0,14.10,151.36)" font-style="italic">μ</text>
<path d="M0.9,138.4 Q9.7,128.7 18.5,138.4 Q9.7,132.9 0.9,138.4 Z" fill="#000" stroke="#000" stroke-width="0.5" stroke-linejoin="round"/>
<text style="stroke:none" transform="matrix(0,-0.1583,0.1511,0,22.60,431.84)">Ratio</text>
<text style="stroke:none" transform="matrix(0,-0.1679,0.1593,0,22.60,389.55)">to</text>
<text style="stroke:none" transform="matrix(0,-0.1610,0.1482,0,22.60,369.68)">analytic</text>
</g>
</svg>
</body></html>
